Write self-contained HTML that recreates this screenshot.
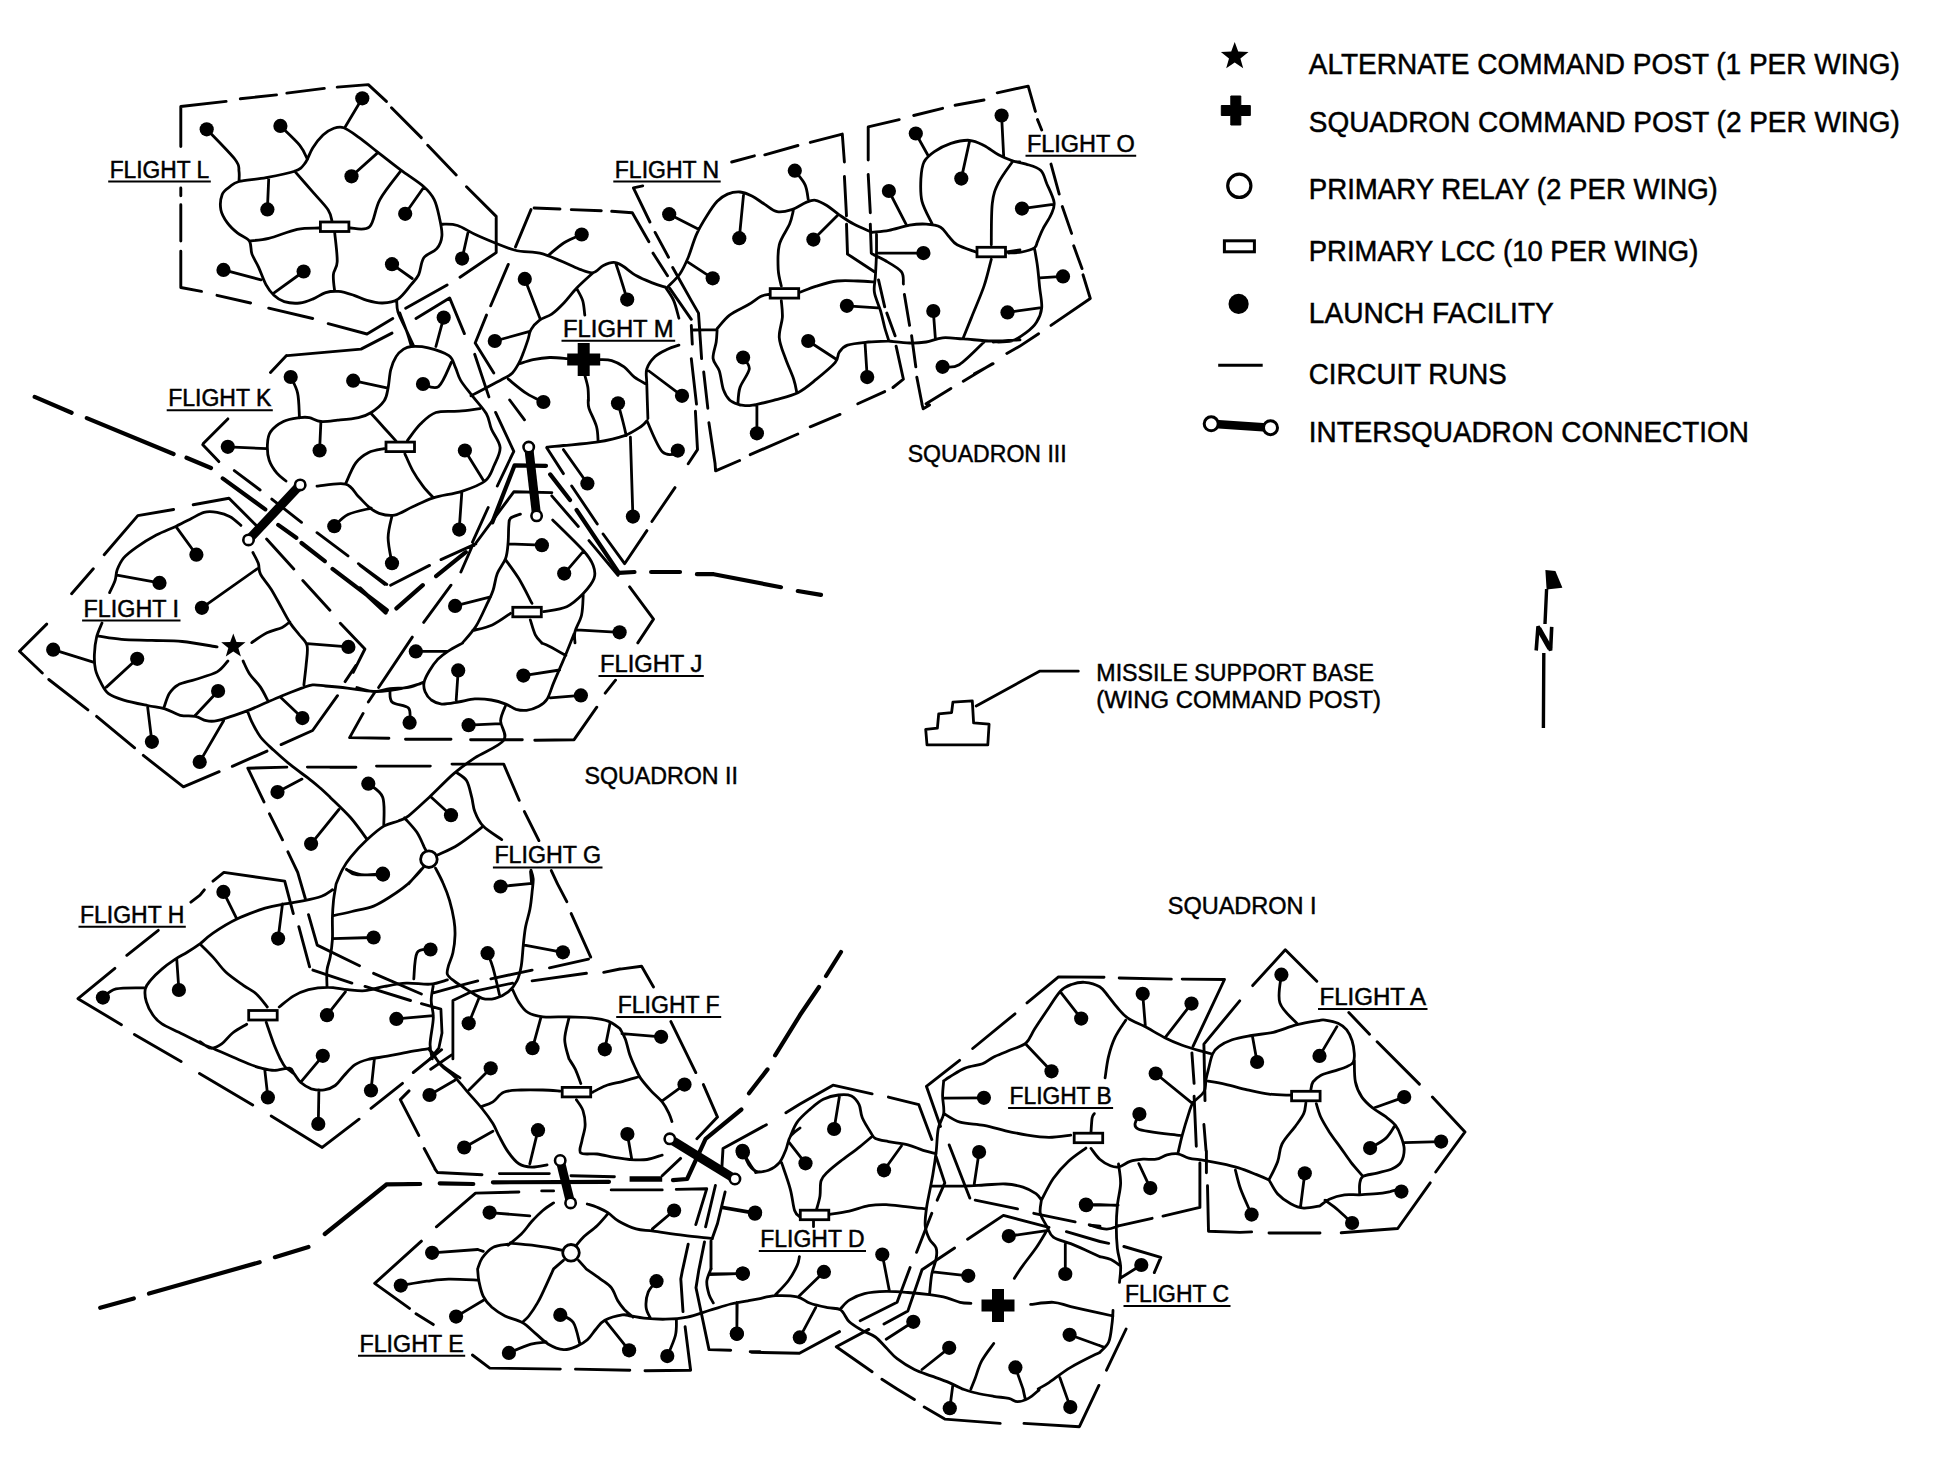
<!DOCTYPE html>
<html><head><meta charset="utf-8"><title>Wing circuit layout</title>
<style>
html,body{margin:0;padding:0;background:#fff;}
svg{display:block}
text{font-family:"Liberation Sans",sans-serif;fill:#000;}
.fl{font-size:23px;}
.lg{font-size:29px;}
.sq{font-size:23px;}
</style></head><body>
<svg width="1935" height="1470" viewBox="0 0 1935 1470">
<rect width="1935" height="1470" fill="#fff"/>
<path d="M249.3 241.0C252.6 240.5 260.8 240.3 268.7 238.4C276.7 236.4 288.8 231.1 297.2 229.3C305.6 227.6 315.5 228.3 319.1 228.0 M350.2 228.0C353.4 227.8 364.6 231.5 369.6 226.8C374.5 222.0 374.7 208.9 379.9 199.6C385.1 190.3 397.1 175.9 400.6 171.2 M334.7 232.7C335.1 237.5 337.5 254.7 337.2 261.7C337.0 268.6 333.8 269.6 333.4 274.6C332.9 279.5 334.4 288.6 334.7 291.4 M294.6 171.2C297.6 174.6 307.1 185.4 312.7 191.9C318.3 198.3 325.0 205.0 328.2 209.9C331.4 214.9 331.4 219.6 332.1 221.6 M441.9 224.2C444.5 224.4 451.4 223.5 457.5 225.5C463.5 227.4 468.7 231.7 478.1 235.8C487.6 239.9 503.6 247.0 514.3 250.0C525.1 253.0 531.8 250.7 542.8 253.9C553.7 257.1 573.8 266.8 580.0 269.4 M396.7 300.4C396.9 302.4 396.5 307.3 398.0 312.1C399.5 316.8 403.2 323.3 405.7 328.9C408.3 334.5 412.2 342.9 413.5 345.7 M239.0 181.5C245.0 180.0 256.9 179.4 266.1 177.6C275.4 175.9 288.1 173.5 294.6 171.2C301.0 168.8 301.9 167.3 304.9 163.4C307.9 159.5 309.7 152.6 312.7 147.9C315.7 143.2 319.6 138.2 323.0 135.0C326.5 131.7 329.9 129.7 333.4 128.5C336.8 127.3 339.4 126.2 343.7 127.7C348.0 129.2 353.6 133.6 359.2 137.6C364.8 141.6 370.4 146.4 377.3 151.8C384.2 157.2 392.8 164.1 400.6 169.9C408.3 175.7 418.2 181.7 423.8 186.7C429.4 191.6 431.6 194.4 434.2 199.6C436.8 204.8 438.1 211.7 439.4 217.7C440.7 223.7 442.4 230.6 441.9 235.8C441.5 241.0 439.8 245.1 436.8 248.7C433.8 252.4 426.9 253.5 423.8 257.8C420.8 262.1 420.8 270.1 418.7 274.6C416.5 279.1 414.4 280.8 410.9 284.9C407.5 289.0 402.7 296.1 398.0 299.1C393.3 302.2 387.7 302.8 382.5 303.0C377.3 303.2 371.7 301.7 367.0 300.4C362.2 299.1 358.8 296.8 354.0 295.3C349.3 293.8 343.3 291.8 338.5 291.4C333.8 291.0 329.9 291.4 325.6 292.7C321.3 294.0 317.0 297.4 312.7 299.1C308.4 300.9 304.5 302.6 299.8 303.0C295.0 303.5 288.5 303.0 284.2 301.7C279.9 300.4 276.9 298.1 273.9 295.3C270.9 292.5 268.7 289.7 266.1 284.9C263.6 280.2 260.8 272.0 258.4 266.8C256.0 261.7 253.4 258.2 251.9 253.9C250.4 249.6 251.7 244.4 249.3 241.0C247.0 237.5 241.4 236.2 237.7 233.2C234.0 230.2 230.2 226.8 227.4 222.9C224.6 219.0 221.8 214.7 220.9 209.9C220.0 205.2 220.7 198.3 222.2 194.4C223.7 190.6 227.1 188.8 229.9 186.7C232.7 184.5 233.0 183.0 239.0 181.5Z M206.7 129.3C211.4 134.3 229.7 152.6 235.1 159.5C240.5 166.5 238.4 167.5 239.0 171.2C239.6 174.8 239.0 179.8 239.0 181.5 M280.4 125.9C283.6 129.2 295.2 139.7 299.8 145.3C304.3 150.9 306.2 157.2 307.5 159.5 M362.3 98.3L345.0 127.2 M351.5 176.3L377.3 153.1 M267.4 209.4L268.7 178.9 M405.2 213.8L423.8 187.2 M223.5 269.9L261.0 279.8 M303.6 271.5L274.4 292.7 M392.0 264.2L412.2 278.5 M462.1 258.6L467.8 233.2 M286.0 481.0C284.5 479.7 279.8 476.7 276.9 473.2C274.1 469.8 270.8 465.0 269.2 460.3C267.6 455.5 267.2 449.5 267.4 444.8C267.6 440.0 267.8 435.7 270.5 431.9C273.2 428.0 278.5 423.9 283.4 421.5C288.4 419.1 295.9 418.3 300.2 417.6C304.5 417.0 305.8 417.0 309.3 417.6C312.7 418.3 316.2 421.1 320.9 421.5C325.6 421.9 331.5 420.9 337.7 420.2C344.0 419.6 352.8 418.9 358.4 417.6C364.0 416.3 367.0 415.3 371.3 412.5C375.6 409.7 381.4 404.9 384.2 400.8C387.0 396.7 387.0 393.1 388.1 387.9C389.2 382.7 389.4 375.0 390.7 369.8C392.0 364.6 393.7 360.3 395.9 356.9C398.0 353.4 401.0 350.8 403.6 349.1C406.2 347.4 407.3 346.8 411.4 346.5C415.5 346.3 421.9 346.3 428.2 347.8C434.4 349.3 444.3 352.4 448.9 355.6C453.4 358.8 453.4 363.1 455.3 367.2C457.3 371.3 457.7 375.4 460.5 380.1C463.3 384.9 467.8 390.1 472.1 395.7C476.4 401.3 483.1 408.2 486.4 413.8C489.6 419.4 489.2 423.7 491.5 429.3C493.8 434.9 499.6 441.3 500.1 447.4C500.5 453.4 496.6 459.9 494.1 465.5C491.6 471.1 490.5 476.7 485.1 481.0C479.7 485.3 470.4 488.5 461.8 491.3C453.2 494.1 441.5 495.2 433.4 497.8C425.2 500.4 419.1 503.9 412.7 506.8C406.2 509.7 400.2 514.0 394.6 515.1C389.0 516.2 383.4 514.7 379.1 513.3C374.8 511.9 372.2 509.6 368.7 506.8C365.3 504.0 362.3 500.3 358.4 496.5C354.5 492.7 352.4 485.8 345.5 484.1C338.6 482.4 321.8 485.8 317.0 486.1 M371.3 413.8C373.5 416.1 380.1 423.4 384.2 428.0C388.3 432.5 393.9 438.7 395.9 440.9 M407.5 440.4C409.7 437.7 415.7 428.7 420.4 424.1C425.2 419.4 429.5 414.6 435.9 412.5C442.4 410.3 451.9 411.8 459.2 411.2C466.5 410.5 476.4 409.0 479.9 408.6 M384.2 448.7C381.7 449.3 373.5 450.2 368.7 452.5C364.0 454.9 359.7 457.6 355.8 462.9C351.9 468.1 347.2 480.5 345.5 484.1 M404.9 453.8C406.2 456.6 409.7 465.2 412.7 470.6C415.7 476.0 419.6 481.6 423.0 486.1C426.5 490.7 431.6 495.8 433.4 497.8 M399.8 312.9C401.0 316.4 405.6 328.0 407.5 333.6C409.4 339.2 410.7 344.4 411.4 346.5 M290.7 377.0C291.8 379.7 296.2 386.5 297.6 393.1C299.1 399.6 299.1 412.5 299.4 416.3 M353.2 380.7L386.8 387.9 M423.0 384.0C425.6 384.5 433.8 390.3 438.5 386.6C443.3 382.9 449.3 366.1 451.5 362.0 M227.8 446.8L266.6 448.7 M319.6 450.5L320.9 421.5 M464.9 450.5L483.8 481.0 M334.3 526.2C336.6 524.3 341.9 517.6 348.0 514.6C354.2 511.6 367.4 509.2 371.3 508.1 M459.2 529.6L461.8 492.6 M392.0 563.2C391.3 559.0 388.1 545.7 388.1 537.8C388.1 530.0 391.3 519.5 392.0 515.9 M443.7 317.6L435.9 346.5 M520.4 514.1C518.8 514.8 512.4 516.3 510.5 518.2C508.6 520.2 509.2 521.4 508.8 525.7C508.4 530.0 508.6 538.4 508.0 543.9C507.5 549.4 507.3 553.8 505.5 558.8C503.7 563.7 499.3 568.4 497.3 573.6C495.2 578.9 494.8 585.2 493.1 590.2C491.5 595.1 490.2 597.3 487.3 603.4C484.4 609.5 479.9 620.0 475.8 626.6C471.6 633.1 464.7 640.2 462.5 642.9 M505.5 559.6C507.7 562.8 514.3 571.3 518.8 578.6C523.2 585.9 529.8 599.3 532.0 603.4 M543.6 611.7C547.4 610.8 560.1 609.7 566.7 606.7C573.3 603.7 578.7 598.2 583.3 593.5C587.8 588.8 592.3 583.3 594.0 578.6C595.7 573.9 595.0 570.1 593.2 565.4C591.4 560.7 590.0 558.1 583.3 550.5C576.5 542.9 557.8 525.0 552.7 519.9 M583.3 593.5C583.0 597.1 583.0 608.6 581.6 615.0C580.2 621.3 576.1 626.9 575.0 631.5C573.9 636.2 575.0 641.0 575.0 642.9 M510.5 613.3C507.5 615.3 498.6 622.0 492.3 624.9C486.0 627.8 475.8 629.7 472.5 630.7 M530.3 619.9C531.2 622.4 533.4 631.0 535.3 634.8C537.2 638.7 540.8 641.6 541.9 642.9 M546.9 447.1C549.6 446.9 555.1 446.3 563.4 445.5C571.7 444.7 586.3 443.8 596.5 442.2C606.7 440.5 617.2 438.2 624.6 435.6C632.0 432.9 637.4 428.9 641.1 426.5C644.9 424.0 646.0 421.6 646.9 420.7 M588.2 400.0C588.4 401.4 587.7 403.9 589.0 408.3C590.4 412.7 595.0 420.9 596.5 426.5C598.0 432.0 597.9 438.9 598.1 441.3 M646.9 420.7C649.5 425.9 657.1 446.7 662.6 452.1C668.1 457.5 677.1 452.8 680.0 452.9 M541.9 545.2L508.0 543.9 M564.2 573.6L583.3 551.3 M455.1 605.9L490.6 596.8 M619.6 632.3L576.6 629.9 M618.0 403.3C618.8 406.3 621.6 416.1 622.9 421.5C624.3 426.9 625.7 433.2 626.2 435.6 M632.9 516.6L630.4 437.2 M587.4 483.5L563.4 449.6 M580.0 269.4C582.2 270.0 589.2 273.4 593.1 272.7C596.9 272.1 599.9 267.2 603.4 265.5C606.8 263.8 610.6 262.4 613.7 262.4C616.8 262.4 618.2 263.2 622.0 265.5C625.8 267.7 631.3 272.9 636.5 275.8C641.7 278.8 648.2 281.2 653.0 283.1C657.9 285.0 663.4 286.5 665.4 287.2 M593.1 272.7C590.3 275.3 581.3 283.2 576.5 288.2C571.7 293.2 568.2 298.4 564.1 302.7C560.0 307.0 555.8 311.2 551.7 314.1C547.5 317.0 542.7 317.7 539.3 320.3C535.8 322.9 532.9 326.3 531.0 329.6C529.1 332.9 529.3 335.8 527.9 339.9C526.5 344.1 524.3 350.5 522.7 354.4C521.2 358.4 520.3 360.6 518.6 363.7C516.9 366.8 514.8 370.6 512.4 373.0C510.0 375.4 511.0 374.4 504.1 378.2C497.2 382.0 476.5 392.9 471.0 395.8 M665.4 287.2C666.8 289.4 671.5 295.5 673.7 300.6C676.0 305.8 678.0 315.3 678.9 318.2 M519.6 363.7C521.9 363.0 528.1 360.6 533.1 359.6C538.1 358.6 543.9 357.7 549.6 357.5C555.3 357.3 564.3 358.4 567.2 358.6 M600.3 359.6C602.2 359.8 607.7 359.4 611.7 360.6C615.6 361.8 620.3 364.1 624.1 366.8C627.9 369.6 630.6 374.2 634.4 377.2C638.2 380.1 644.8 383.2 646.8 384.4 M678.9 345.1C677.0 345.8 671.5 347.3 667.5 349.2C663.5 351.1 658.5 353.2 655.1 356.5C651.7 359.8 648.2 364.2 646.8 368.9C645.4 373.5 646.7 376.1 646.8 384.4C647.0 392.7 647.7 412.8 647.9 418.5 M584.8 375.1C585.3 377.2 587.3 383.2 587.9 387.5C588.5 391.8 588.4 398.7 588.5 401.0 M576.5 288.2C577.5 290.3 581.3 296.2 582.7 300.6C584.1 305.1 584.4 312.7 584.8 315.1 M693.4 330.0L717.1 329.6 M682.0 395.8L648.9 371.0 M543.4 402.0C540.7 400.6 532.7 397.5 526.9 393.7C521.0 389.9 511.4 381.6 508.3 379.2 M494.8 341.0L528.9 331.7 M524.8 278.9L540.3 319.3 M581.7 234.5C578.7 235.8 569.6 239.3 564.1 242.7C558.6 246.2 551.2 253.1 548.6 255.1 M627.2 299.6C626.0 295.6 621.8 281.9 619.9 275.8C618.0 269.8 616.5 265.5 615.8 263.4 M667.6 287.2C669.6 284.9 676.5 278.7 680.0 273.7C683.4 268.7 685.5 263.7 688.3 257.2C691.0 250.6 693.4 241.3 696.5 234.4C699.6 227.5 703.4 221.3 706.9 215.8C710.3 210.3 713.8 205.0 717.2 201.3C720.7 197.7 723.8 195.7 727.5 194.1C731.3 192.6 735.8 191.7 740.0 192.0C744.1 192.4 748.2 194.1 752.4 196.2C756.5 198.2 760.6 201.9 764.8 204.4C768.9 207.0 772.7 210.8 777.2 211.7C781.7 212.5 786.8 211.2 791.7 209.6C796.5 208.1 802.2 203.9 806.1 202.4C810.1 200.8 812.0 199.8 815.4 200.3C818.9 200.8 822.9 203.1 826.8 205.5C830.8 207.9 834.8 211.7 839.2 214.8C843.7 217.9 848.2 221.2 853.7 224.1C859.2 227.0 869.2 231.0 872.3 232.4 M876.5 234.4C876.5 237.5 876.6 246.2 876.5 253.1C876.3 259.9 875.8 269.3 875.4 275.8C875.1 282.4 873.5 286.5 874.4 292.3C875.3 298.2 878.9 305.1 880.6 311.0C882.3 316.8 883.4 322.5 884.7 327.5C886.1 332.5 888.2 338.7 888.9 341.0 M888.9 341.0C885.4 341.1 875.1 341.3 868.2 342.0C861.3 342.7 852.3 343.4 847.5 345.1C842.7 346.8 841.3 349.4 839.2 352.3C837.2 355.3 838.9 358.2 835.1 362.7C831.3 367.1 822.7 374.2 816.5 379.2C810.3 384.2 804.8 389.2 797.9 392.7C791.0 396.1 782.4 397.8 775.1 399.9C767.9 402.0 757.9 404.2 754.4 405.1 M717.2 328.5C717.0 330.8 716.9 337.0 716.2 342.0C715.5 347.0 712.6 353.7 713.1 358.5C713.6 363.4 717.6 365.8 719.3 370.9C721.0 376.1 721.7 384.7 723.4 389.6C725.1 394.4 726.9 397.3 729.6 399.9C732.4 402.5 738.2 404.2 740.0 405.1 M717.2 328.5C719.3 326.3 724.4 319.1 729.6 315.1C734.8 311.1 743.1 307.9 748.2 304.8C753.4 301.7 757.2 298.2 760.6 296.5C764.1 294.8 767.5 294.8 768.9 294.4 M799.9 292.3C802.7 291.3 810.3 288.0 816.5 286.1C822.7 284.2 830.3 281.8 837.2 281.0C844.1 280.1 851.6 280.8 857.8 281.0C864.1 281.1 871.6 281.8 874.4 282.0 M781.3 286.1C780.8 283.4 778.6 276.5 778.2 269.6C777.9 262.7 777.4 252.4 779.3 244.8C781.2 237.2 787.3 229.8 789.6 224.1C791.9 218.4 792.7 212.9 793.3 210.7 M781.3 300.6C781.5 303.4 782.7 311.0 782.4 317.2C782.0 323.4 778.7 331.0 779.3 337.8C779.8 344.7 783.0 351.6 785.5 358.5C787.9 365.4 791.8 373.5 793.7 379.2C795.6 384.9 796.3 390.4 796.8 392.7 M872.3 232.4C875.1 232.0 882.7 231.5 888.9 230.3C895.1 229.1 903.4 226.2 909.6 225.1C915.8 224.1 920.9 223.8 926.1 224.1C931.3 224.4 936.8 225.1 940.6 227.2C944.4 229.3 946.1 233.6 948.9 236.5C951.6 239.4 952.6 242.2 957.1 244.8C961.6 247.4 972.6 250.8 975.7 252.0 M932.3 224.1C930.6 220.3 923.9 208.9 922.0 201.3C920.1 193.8 920.6 185.1 920.9 178.6C921.3 172.0 921.8 166.5 924.0 162.0C926.3 157.6 929.9 154.8 934.4 151.7C938.9 148.6 945.1 145.3 950.9 143.4C956.8 141.5 964.0 140.0 969.5 140.3C975.0 140.7 979.2 143.1 984.0 145.5C988.8 147.9 993.7 152.2 998.5 154.8C1003.3 157.4 1009.4 159.8 1013.0 161.0C1016.6 162.2 1018.8 161.9 1020.0 162.0 M1013.0 161.0C1010.6 164.6 1001.9 175.7 998.5 182.7C995.0 189.8 993.5 193.1 992.3 203.4C991.1 213.8 991.4 237.9 991.3 244.8 M1006.8 252.0L1020.0 249.9 M991.3 259.3C990.0 263.7 987.3 276.5 984.0 286.1C980.7 295.8 975.0 308.5 971.6 317.2C968.2 325.8 964.7 334.4 963.3 337.8 M888.9 341.0C892.3 341.3 903.4 342.8 909.6 343.0C915.8 343.2 920.6 342.8 926.1 342.0C931.6 341.1 936.4 338.4 942.6 337.8C948.9 337.3 955.1 338.4 963.3 338.9C971.6 339.4 982.8 340.8 992.3 341.0C1001.7 341.1 1015.4 340.1 1020.0 339.9 M872.3 254.1C874.4 255.1 879.9 257.4 884.7 260.3C889.6 263.2 898.2 267.7 901.3 271.7C904.4 275.6 903.0 282.0 903.4 284.1 M669.2 214.2L698.6 229.3 M739.3 238.2L743.5 195.1 M794.8 170.7C796.5 173.1 802.9 180.0 805.1 184.8C807.3 189.6 807.7 196.9 808.2 199.3 M813.4 239.6L837.2 215.8 M712.7 278.3L688.3 262.4 M846.9 305.8L877.5 307.9 M808.2 341.0L835.1 358.5 M867.2 377.1L865.1 344.1 M743.1 357.5C744.1 359.4 749.8 363.9 749.3 368.9C748.7 373.9 741.9 381.7 740.0 387.5C738.1 393.3 738.2 401.1 737.9 403.8 M915.8 133.5L928.2 155.8 M1001.6 115.5L1003.7 156.9 M961.3 178.6L969.5 141.4 M888.9 191.0L906.5 225.1 M923.4 253.1L878.5 253.1 M933.3 311.0L935.4 338.9 M942.6 366.8C945.4 366.5 952.3 368.9 959.2 364.7C966.1 360.6 979.9 345.8 984.0 342.0 M1011.7 161.0C1014.1 161.5 1021.3 162.6 1026.1 164.1C1031.0 165.7 1037.2 167.0 1040.6 170.3C1044.1 173.6 1044.6 178.4 1046.8 183.8C1049.1 189.1 1053.4 197.2 1054.1 202.4C1054.8 207.5 1052.9 210.3 1051.0 214.8C1049.1 219.3 1044.9 224.8 1042.7 229.3C1040.4 233.7 1038.9 238.6 1037.5 241.7C1036.1 244.8 1037.0 246.1 1034.4 247.9C1031.8 249.6 1026.3 251.1 1022.0 252.0C1017.7 252.9 1010.8 252.9 1008.6 253.0 M1034.4 247.9C1034.9 251.0 1036.7 259.9 1037.5 266.5C1038.4 273.0 1038.9 280.3 1039.6 287.2C1040.3 294.1 1042.2 302.0 1041.7 307.8C1041.1 313.7 1039.1 318.2 1036.5 322.3C1033.9 326.5 1030.3 329.6 1026.1 332.7C1022.0 335.8 1017.2 339.4 1011.7 340.9C1006.1 342.5 996.2 341.8 993.1 342.0 M1022.0 208.6L1053.0 204.4 M1063.0 276.4L1039.6 277.9 M1007.5 312.4L1039.6 307.8 M739.9 404.9C741.1 405.0 745.0 405.7 747.4 405.7C749.8 405.7 753.2 405.0 754.3 404.9 M925.7 729.4L937.4 728.1L938.7 713.8L951.6 712.6L952.9 702.2L972.3 700.9L973.6 722.9L989.1 724.2L987.8 744.9L927.0 744.9L925.7 729.4 M976.2 706.1L1039.5 671.2L1078.3 671.2 M756.9 433.3L756.9 404.9 M240.9 525.4C239.1 523.9 234.1 518.8 230.1 516.7C226.1 514.5 221.4 513.1 217.1 512.3C212.7 511.6 208.4 511.2 204.0 512.3C199.7 513.4 195.7 516.5 191.0 518.8C186.3 521.2 181.6 523.7 175.8 526.4C170.0 529.1 162.8 531.7 156.3 535.1C149.8 538.6 142.2 543.3 136.7 547.1C131.3 550.9 127.0 554.1 123.7 557.9C120.5 561.7 118.7 566.0 117.2 569.8C115.8 573.6 116.3 576.9 115.0 580.7C113.8 584.5 110.5 590.6 109.6 592.6 M102.0 623.0C101.1 625.4 97.9 631.9 96.6 637.1C95.3 642.4 94.6 649.1 94.4 654.5C94.2 659.9 94.4 665.0 95.5 669.7C96.6 674.4 98.8 678.7 100.9 682.7C103.1 686.7 104.7 690.7 108.5 693.6C112.3 696.5 117.2 698.1 123.7 700.1C130.2 702.1 140.7 704.1 147.6 705.5C154.5 707.0 159.5 707.1 165.0 708.8C170.4 710.4 175.1 714.0 180.2 715.3C185.2 716.5 191.0 715.5 195.4 716.4C199.7 717.3 202.6 720.0 206.2 720.7C209.8 721.4 212.4 721.6 217.1 720.7C221.8 719.8 229.0 717.1 234.4 715.3C239.9 713.5 244.2 712.0 249.6 709.9C255.0 707.7 261.6 704.6 267.0 702.3C272.4 699.9 276.4 698.1 282.2 695.7C288.0 693.4 296.7 690.0 301.7 688.1C306.8 686.3 308.6 685.3 312.6 684.9C316.5 684.5 319.8 685.4 325.6 686.0C331.4 686.5 339.3 687.2 347.3 688.1C355.3 689.1 366.1 691.0 373.3 691.4C380.6 691.8 384.9 691.0 390.7 690.3C396.5 689.6 403.2 688.1 408.1 687.1C413.0 686.0 418.0 684.3 420.0 683.8 M252.9 552.5C253.8 554.3 257.0 559.7 258.3 563.3C259.6 567.0 258.3 569.8 260.5 574.2C262.6 578.5 267.7 583.6 271.3 589.4C274.9 595.2 278.9 603.1 282.2 608.9C285.4 614.7 288.0 619.8 290.9 624.1C293.8 628.5 296.8 631.3 299.5 635.0C302.3 638.6 306.1 640.8 307.1 645.8C308.2 650.9 306.6 658.8 306.1 665.4C305.5 671.9 304.2 681.6 303.9 684.9 M98.8 636.1C102.6 636.6 112.7 638.6 121.6 639.3C130.4 640.0 141.8 640.0 151.9 640.4C162.1 640.8 171.5 640.4 182.3 641.5C193.2 642.6 211.3 646.0 217.1 646.9 M251.8 642.6C254.3 640.9 261.9 635.3 267.0 632.8C272.0 630.3 278.4 629.2 282.2 627.4C286.0 625.6 288.5 622.8 289.8 621.9 M227.9 661.0C226.1 662.8 222.5 668.8 217.1 671.9C211.6 674.9 201.9 677.3 195.4 679.5C188.8 681.6 182.3 682.5 178.0 684.9C173.6 687.2 171.7 689.8 169.3 693.6C167.0 697.4 164.8 705.3 163.9 707.7 M243.1 661.0C244.2 663.2 246.7 669.7 249.6 674.0C252.5 678.4 257.4 682.5 260.5 687.1C263.5 691.6 266.8 698.8 268.1 701.2 M247.4 710.9C248.2 712.7 249.6 717.4 251.8 721.8C254.0 726.1 256.9 732.3 260.5 737.0C264.1 741.7 268.4 745.3 273.5 750.0C278.6 754.7 285.1 760.5 290.9 765.2C296.7 769.9 303.2 774.3 308.2 778.2C313.3 782.2 319.1 787.1 321.3 788.9 M196.4 554.7L175.8 526.4 M159.5 582.9L118.3 575.3 M201.9 607.8L257.2 568.8 M53.2 649.7L93.3 662.1 M137.2 658.8L106.4 687.1 M348.4 646.9L307.1 643.6 M218.1 691.0L195.4 715.3 M302.4 718.1L280.0 696.8 M151.9 741.8L147.6 706.6 M199.7 761.9L223.6 720.7 M420.0 683.8L423.1 682.4 M356.9 687.5C359.8 688.2 369.0 691.5 374.5 691.7C380.0 691.9 384.3 689.3 390.0 688.6C395.7 687.9 403.1 688.6 408.6 687.5C414.1 686.5 420.7 683.2 423.1 682.4 M462.6 643.1C460.1 644.5 452.1 648.6 447.9 651.4C443.7 654.1 440.7 656.4 437.5 659.6C434.4 662.9 431.5 667.2 429.3 671.0C427.0 674.8 424.8 678.9 424.1 682.4C423.4 685.8 423.9 688.8 425.1 691.7C426.3 694.6 428.6 697.9 431.3 700.0C434.1 702.0 437.2 703.8 441.7 704.1C446.2 704.4 452.7 702.9 458.2 702.0C463.7 701.2 469.3 699.3 474.8 698.9C480.3 698.6 486.2 699.1 491.3 700.0C496.5 700.8 501.7 702.5 505.8 704.1C509.9 705.6 512.7 708.2 516.1 709.3C519.6 710.3 522.7 710.8 526.5 710.3C530.3 709.8 535.4 708.1 538.9 706.2C542.3 704.3 544.8 702.7 547.2 698.9C549.6 695.1 551.3 688.4 553.4 683.4C555.4 678.4 557.5 673.8 559.6 668.9C561.6 664.1 563.4 660.3 565.8 654.5C568.2 648.6 572.7 637.2 574.1 633.8 M541.8 643.1C543.0 643.6 545.2 644.1 549.2 646.2C553.2 648.3 563.0 653.9 565.8 655.5 M505.8 705.1C504.9 707.7 501.0 714.8 500.6 720.6C500.3 726.5 508.0 734.1 503.7 740.3C499.4 746.5 483.1 752.4 474.8 757.9C466.5 763.4 461.7 766.8 454.1 773.4C446.5 779.9 436.9 790.1 429.3 797.2C421.7 804.2 413.8 811.8 408.6 815.8C403.4 819.7 402.4 819.2 398.3 821.0C394.1 822.7 388.9 823.0 383.8 826.1C378.6 829.2 372.7 834.4 367.2 839.6C361.7 844.7 354.8 852.1 350.7 857.1C346.5 862.1 344.8 865.1 342.4 869.6C340.0 874.0 337.2 881.4 336.2 883.8 M404.5 817.8C406.5 820.3 413.6 827.5 416.9 832.3C420.1 837.2 422.6 843.7 424.1 846.8C425.7 849.9 425.8 850.3 426.2 850.9 M437.5 855.1C441.0 853.4 450.8 849.4 458.2 844.7C465.6 840.1 478.1 830.1 482.0 827.2 M456.2 772.3C457.9 773.7 463.9 776.5 466.5 780.6C469.1 784.8 470.3 792.0 471.7 797.2C473.1 802.3 472.9 806.8 474.8 811.6C476.7 816.5 478.6 821.5 483.1 826.1C487.5 830.8 498.6 837.3 501.7 839.6 M330.0 797.2C333.4 800.6 344.5 810.8 350.7 817.8C356.9 824.9 364.5 835.9 367.2 839.6 M421.0 869.6L408.6 883.8 M415.8 651.4L447.9 651.4 M458.2 670.4L456.2 700.0 M523.4 675.6L559.6 670.0 M580.9 695.4L550.3 697.9 M409.6 722.7C409.5 720.3 411.5 711.7 408.6 708.2C405.7 704.8 395.1 705.1 392.0 702.0C388.9 698.9 390.3 691.7 390.0 689.6 M468.6 725.2L500.6 723.7 M451.0 815.2L431.3 797.2 M368.3 783.7C370.7 786.0 380.2 790.1 382.7 797.2C385.3 804.2 383.6 821.3 383.8 826.1 M382.7 873.7C379.1 873.9 367.1 875.4 361.0 874.7C355.0 874.0 349.0 870.4 346.5 869.6 M321.1 788.8L330.0 797.1 M336.1 883.9C335.7 886.7 334.1 894.9 333.5 900.6C332.9 906.3 332.6 911.5 332.4 918.0C332.2 924.5 332.8 933.2 332.4 939.7C332.0 946.2 331.1 952.0 330.2 957.1C329.3 962.1 327.5 965.2 327.0 970.1C326.4 975.0 327.0 983.7 327.0 986.4 M332.4 915.8C335.7 915.1 345.1 913.1 351.9 911.5C358.8 909.9 367.1 908.6 373.6 906.1C380.2 903.5 385.6 899.7 391.0 896.3C396.4 892.8 401.9 889.0 406.2 885.4C410.5 881.8 414.2 877.7 417.1 874.6C420.0 871.5 422.5 868.2 423.6 867.0 M435.5 868.1C436.8 870.6 440.8 877.8 443.1 883.3C445.5 888.7 447.8 894.5 449.6 900.6C451.4 906.8 453.1 914.4 454.0 920.2C454.9 925.9 455.2 929.9 455.0 935.4C454.9 940.8 454.0 947.7 452.9 952.7C451.8 957.8 449.4 962.1 448.5 965.7C447.6 969.4 446.5 971.9 447.4 974.4C448.4 977.0 450.7 978.4 454.0 980.9C457.2 983.5 462.3 986.7 467.0 989.6C471.7 992.5 477.5 996.9 482.2 998.3C486.9 999.7 490.9 999.4 495.2 998.3C499.5 997.2 504.6 994.7 508.2 991.8C511.8 988.9 514.7 985.3 516.9 980.9C519.1 976.6 520.2 971.9 521.3 965.7C522.3 959.6 522.7 950.5 523.4 944.0C524.1 937.5 524.5 932.5 525.6 926.7C526.7 920.9 528.8 915.1 529.9 909.3C531.0 903.5 531.6 897.0 532.1 891.9C532.6 886.9 533.4 882.5 533.2 878.9C533.0 875.3 531.4 871.7 531.0 870.2 M512.6 989.6C513.7 991.8 516.5 998.8 519.1 1002.6C521.6 1006.4 523.8 1010.1 527.8 1012.4C531.7 1014.8 536.1 1016.0 543.0 1016.8C549.8 1017.5 561.0 1016.6 569.0 1016.8C577.0 1016.9 584.2 1017.1 590.7 1017.8C597.2 1018.6 603.2 1019.3 608.1 1021.1C613.0 1022.9 618.0 1027.4 620.0 1028.7 M569.0 1017.8C568.3 1021.5 564.7 1032.7 564.7 1039.5C564.7 1046.4 568.3 1055.6 569.0 1058.9 M200.0 944.0C202.2 942.2 206.9 937.3 213.0 933.2C219.2 929.0 228.2 923.2 236.9 919.1C245.6 914.9 257.2 910.8 265.1 908.2C273.1 905.7 278.1 905.1 284.7 903.9C291.2 902.6 298.0 901.9 304.2 900.6C310.3 899.4 316.9 898.1 321.6 896.3C326.3 894.5 330.6 890.9 332.4 889.8 M200.0 944.0C202.2 946.2 208.7 952.4 213.0 957.1C217.4 961.8 221.0 967.6 226.0 972.3C231.1 977.0 238.3 981.7 243.4 985.3C248.5 988.9 252.5 990.3 256.4 994.0C260.4 997.6 265.5 1004.8 267.3 1007.0 M279.2 1007.0C281.6 1005.2 288.5 999.0 293.3 996.1C298.2 993.2 302.7 991.1 308.5 989.6C314.3 988.2 321.6 987.4 328.1 987.4C334.6 987.4 341.5 989.1 347.6 989.6C353.8 990.2 358.8 991.2 365.0 990.7C371.1 990.2 377.6 987.6 384.5 986.4C391.4 985.1 398.6 983.5 406.2 983.1C413.8 982.7 423.2 984.7 430.1 984.2C437.0 983.7 444.6 980.6 447.4 979.9 M246.7 1024.3C244.3 1025.8 236.7 1029.8 232.6 1033.0C228.4 1036.3 225.3 1041.4 221.7 1043.9C218.1 1046.4 214.5 1048.6 210.9 1048.2C207.2 1047.9 201.8 1042.8 200.0 1041.7 M266.2 1022.2C267.5 1025.8 271.4 1037.8 273.8 1043.9C276.2 1050.0 279.2 1056.4 280.3 1058.9 M433.3 985.3C433.0 987.8 431.2 995.0 431.2 1000.5C431.2 1005.9 433.5 1010.6 433.3 1017.8C433.2 1025.1 430.3 1037.0 430.1 1043.9C429.9 1050.7 431.9 1056.4 432.3 1058.9 M421.4 1003.7L440.9 1009.2L442.0 1033.0L438.8 1048.2L430.1 1058.9 M452.9 1058.9L452.9 1000.5L471.3 991.8L512.6 983.1 M433.3 992.9L460.5 985.3L477.8 980.9 M373.6 937.5L332.4 938.6 M383.0 874.6C378.5 874.6 362.4 875.5 356.3 874.6C350.2 873.7 348.1 870.1 346.5 869.2 M430.5 949.5C428.3 950.0 419.8 947.8 417.1 952.7C414.3 957.6 414.3 974.4 413.8 978.8 M487.6 953.2C488.5 955.6 491.0 960.9 493.0 967.9C495.0 974.9 498.5 990.5 499.5 995.0 M500.6 886.5L532.1 883.3 M562.9 952.3L524.5 945.1 M277.5 792.1L302.0 779.1 M311.1 843.8L338.9 809.5 M532.5 1048.2L540.8 1017.8 M604.8 1049.3L610.2 1022.2 M468.7 1023.3L478.9 998.3 M223.4 891.9L236.9 919.1 M278.1 938.6L282.5 903.9 M327.0 1015.2L345.4 991.8 M396.4 1018.9L433.3 1015.7 M200.6 943.3C198.5 944.8 191.9 949.3 187.6 952.0C183.3 954.7 178.9 956.7 174.6 959.6C170.2 962.5 165.5 965.9 161.6 969.4C157.6 972.8 153.4 977.0 150.7 980.2C148.0 983.5 146.0 985.3 145.3 988.9C144.6 992.5 145.1 997.6 146.4 1001.9C147.6 1006.3 150.3 1011.3 152.9 1015.0C155.4 1018.6 157.2 1020.8 161.6 1023.6C165.9 1026.5 172.4 1029.1 178.9 1032.3C185.4 1035.6 194.5 1040.3 200.6 1043.2C206.8 1046.1 210.8 1047.5 215.8 1049.7C220.9 1051.9 225.6 1053.9 231.0 1056.2C236.4 1058.6 243.3 1061.8 248.4 1063.8C253.4 1065.8 257.1 1067.1 261.4 1068.1C265.7 1069.2 269.7 1070.3 274.4 1070.3C279.1 1070.3 286.4 1067.6 289.6 1068.1C292.9 1068.7 292.2 1071.2 294.0 1073.6C295.8 1075.9 297.6 1079.7 300.5 1082.3C303.4 1084.8 307.3 1087.5 311.3 1088.8C315.3 1090.0 320.4 1090.4 324.3 1089.9C328.3 1089.3 331.9 1087.9 335.2 1085.5C338.5 1083.2 340.6 1079.2 343.9 1075.7C347.1 1072.3 350.8 1067.6 354.7 1064.9C358.7 1062.2 362.3 1060.9 367.8 1059.5C373.2 1058.0 380.4 1057.5 387.3 1056.2C394.2 1054.9 402.1 1053.1 409.0 1051.9C415.9 1050.6 425.3 1049.2 428.5 1048.6 M280.3 1058.8C281.1 1060.2 283.0 1064.6 285.3 1067.1C287.6 1069.5 292.5 1072.5 294.0 1073.6 M428.5 1048.6C430.7 1051.3 436.3 1060.0 441.6 1064.9C446.8 1069.8 456.9 1075.7 460.0 1077.9 M102.9 997.6C105.1 996.2 109.1 990.5 116.0 988.9C122.8 987.3 139.5 988.0 144.2 987.8 M178.9 990.0L176.7 958.5 M267.9 1097.4L264.7 1069.2 M318.3 1123.9L318.9 1089.9 M371.0 1090.5L374.3 1059.5 M322.8 1055.8L301.6 1081.2 M620.1 1028.8C620.9 1030.5 623.7 1034.8 625.3 1039.0C626.9 1043.2 628.0 1049.5 629.6 1054.2C631.2 1058.9 633.2 1063.2 635.0 1067.2C636.9 1071.2 637.8 1074.1 640.5 1078.1C643.2 1082.0 647.7 1087.1 651.3 1091.1C654.9 1095.1 659.3 1098.3 662.2 1101.9C665.1 1105.6 667.1 1109.5 668.7 1112.8C670.3 1116.1 671.4 1120.0 671.9 1121.5 M569.1 1059.0C570.1 1060.7 573.4 1065.3 575.4 1069.4C577.3 1073.5 579.9 1081.1 580.8 1083.5 M592.7 1092.2C594.9 1091.1 600.7 1087.5 605.7 1085.7C610.8 1083.9 617.7 1082.8 623.1 1081.3C628.5 1079.9 635.8 1077.7 638.3 1077.0 M560.2 1091.1C557.3 1090.9 549.3 1090.2 542.8 1090.0C536.3 1089.8 527.6 1089.6 521.1 1090.0C514.6 1090.4 508.4 1090.2 503.7 1092.2C499.0 1094.2 496.5 1099.6 492.9 1101.9C489.3 1104.3 483.8 1105.6 482.0 1106.3 M576.4 1099.8C577.5 1101.6 581.5 1106.3 583.0 1110.6C584.4 1115.0 585.3 1120.8 585.1 1125.8C584.9 1130.9 582.6 1136.5 581.9 1141.0C581.1 1145.5 578.2 1150.8 580.8 1153.0C583.3 1155.1 591.5 1153.3 597.1 1154.0C602.7 1154.8 609.0 1156.4 614.4 1157.3C619.9 1158.2 624.2 1159.1 629.6 1159.5C635.0 1159.8 641.6 1160.2 647.0 1159.5C652.4 1158.7 659.6 1155.8 662.2 1155.1 M432.1 1052.0C433.5 1054.2 437.2 1061.1 440.8 1065.0C444.4 1069.0 449.5 1071.6 453.8 1075.9C458.1 1080.2 462.1 1085.7 466.8 1091.1C471.5 1096.5 477.7 1103.0 482.0 1108.5C486.4 1113.9 490.0 1118.9 492.9 1123.6C495.8 1128.4 496.9 1132.0 499.4 1136.7C501.9 1141.4 504.8 1147.3 508.1 1151.9C511.3 1156.4 514.9 1161.3 518.9 1163.8C522.9 1166.3 527.2 1166.9 531.9 1167.1C536.6 1167.2 544.6 1165.3 547.1 1164.9 M553.6 1202.9C551.8 1204.1 546.4 1207.4 542.8 1210.5C539.2 1213.5 535.6 1217.3 531.9 1221.3C528.3 1225.3 525.1 1230.4 521.1 1234.3C517.1 1238.3 510.2 1243.4 508.1 1245.2 M587.3 1204.0C588.9 1204.5 593.6 1205.8 597.1 1207.2C600.5 1208.7 604.3 1210.3 607.9 1212.6C611.5 1215.0 614.1 1218.6 618.8 1221.3C623.5 1224.0 630.3 1227.3 636.1 1228.9C641.9 1230.6 645.5 1230.0 653.5 1231.1C661.5 1232.2 674.1 1234.2 683.9 1235.4C693.7 1236.7 707.4 1238.1 712.1 1238.7 M607.9 1213.7C606.1 1215.7 601.0 1221.9 597.1 1225.7C593.1 1229.5 587.7 1233.1 584.0 1236.5C580.4 1240.0 576.8 1244.7 575.4 1246.3 M508.1 1244.1C505.5 1244.7 497.2 1245.0 492.9 1247.4C488.5 1249.7 484.6 1254.6 482.0 1258.2C479.5 1261.8 478.4 1267.1 477.7 1268.9 M510.2 1243.0C513.9 1243.4 524.7 1244.3 531.9 1245.2C539.2 1246.1 548.4 1247.6 553.6 1248.5C558.9 1249.4 561.8 1250.3 563.4 1250.6 M563.4 1260.4L553.6 1268.9 M578.6 1260.4L586.2 1268.9 M800.0 1128.0C798.4 1129.4 792.6 1133.1 790.2 1136.7C787.9 1140.3 787.7 1145.4 785.9 1149.7C784.1 1154.0 782.3 1159.3 779.4 1162.7C776.5 1166.2 772.5 1168.7 768.5 1170.3C764.6 1171.9 757.7 1172.1 755.5 1172.5 M781.6 1162.7C783.0 1167.1 788.1 1180.8 790.2 1188.8C792.4 1196.7 793.0 1205.8 794.6 1210.5C796.2 1215.2 799.1 1215.9 800.0 1217.0 M661.1 1036.8L622.0 1033.6 M684.5 1084.6L662.2 1100.9 M490.7 1068.3L469.0 1090.0 M429.5 1095.0L454.9 1080.2 M464.2 1147.5L492.9 1131.2 M538.0 1130.2L529.8 1163.8 M627.4 1134.1L631.8 1159.5 M489.6 1212.6L529.8 1215.9 M674.1 1210.5L652.4 1228.9 M432.1 1252.8L477.7 1249.5 M755.1 1212.6L723.0 1207.2 M742.5 1150.8C743.6 1153.1 746.8 1161.5 749.0 1164.9C751.2 1168.3 754.4 1170.3 755.5 1171.4 M477.6 1268.9C477.8 1270.9 478.0 1276.6 478.9 1281.2C479.9 1285.8 481.1 1292.1 483.3 1296.4C485.4 1300.8 488.3 1304.0 491.9 1307.3C495.6 1310.5 499.9 1313.4 505.0 1316.0C510.0 1318.5 517.3 1319.6 522.3 1322.5C527.4 1325.4 531.0 1329.7 535.4 1333.3C539.7 1336.9 543.7 1341.5 548.4 1344.2C553.1 1346.9 558.9 1349.2 563.6 1349.6C568.3 1350.0 572.6 1348.0 576.6 1346.4C580.6 1344.7 584.2 1342.7 587.4 1339.8C590.7 1336.9 593.2 1332.2 596.1 1329.0C599.0 1325.7 600.5 1322.7 604.8 1320.3C609.2 1318.0 617.8 1315.6 622.2 1314.9C626.5 1314.2 627.2 1315.4 630.9 1316.0C634.5 1316.5 638.1 1317.6 643.9 1318.1C649.7 1318.7 658.4 1319.4 665.6 1319.2C672.8 1319.0 680.1 1318.5 687.3 1317.1C694.5 1315.6 701.8 1312.7 709.0 1310.5C716.2 1308.4 724.2 1305.7 730.7 1304.0C737.2 1302.4 743.2 1301.7 748.1 1300.8C753.0 1299.9 758.0 1299.0 760.0 1298.6 M553.6 1268.9C552.0 1272.4 546.7 1284.2 544.0 1289.9C541.4 1295.6 540.1 1298.6 537.5 1302.9C535.0 1307.3 531.2 1312.9 528.8 1316.0C526.5 1319.0 524.3 1320.5 523.4 1321.4 M586.1 1268.9C588.5 1270.6 596.3 1275.9 600.5 1279.1C604.7 1282.2 608.4 1284.1 611.3 1287.7C614.2 1291.4 615.7 1297.2 617.8 1300.8C620.0 1304.4 621.8 1306.7 624.3 1309.5C626.9 1312.2 631.6 1315.8 633.0 1317.1 M711.0 1268.9C710.3 1270.9 707.2 1277.0 706.8 1281.2C706.5 1285.5 707.9 1290.6 709.0 1294.3C710.1 1297.9 712.6 1301.5 713.3 1302.9 M477.6 1249.5L483.3 1251.3 M400.8 1285.6C405.1 1284.9 418.9 1282.3 426.8 1281.2C434.8 1280.2 439.8 1279.2 448.5 1279.1C457.2 1278.9 473.9 1280.0 478.9 1280.2 M456.1 1316.6L484.3 1299.7 M560.3 1314.9C562.5 1316.1 570.1 1317.6 573.3 1322.5C576.6 1327.4 578.8 1340.6 579.9 1344.2 M508.9 1352.9C512.6 1351.4 524.8 1346.0 531.0 1344.2C537.2 1342.4 543.7 1342.4 546.2 1342.0 M629.1 1350.3L605.9 1321.4 M656.5 1281.2C655.1 1283.0 650.0 1287.7 648.2 1292.1C646.5 1296.4 645.7 1302.9 646.1 1307.3C646.4 1311.6 649.7 1316.3 650.4 1318.1 M667.3 1356.1C668.7 1352.7 673.8 1341.7 675.4 1335.5C676.9 1329.4 676.3 1321.9 676.4 1319.2 M742.6 1273.6L709.0 1274.7 M736.8 1333.8L737.2 1302.9 M790.3 1136.6C791.4 1134.2 793.9 1126.7 797.2 1122.1C800.5 1117.5 805.9 1112.9 810.2 1109.1C814.6 1105.3 818.6 1101.7 823.3 1099.3C828.0 1097.0 833.8 1095.5 838.5 1095.0C843.2 1094.4 848.0 1094.4 851.5 1096.0C854.9 1097.7 857.3 1101.1 859.1 1104.7C860.9 1108.3 860.3 1113.1 862.3 1117.8C864.3 1122.5 868.8 1129.5 871.0 1132.9C873.2 1136.4 872.5 1136.9 875.4 1138.4C878.2 1139.8 883.0 1140.5 888.4 1141.6C893.8 1142.7 902.1 1143.4 907.9 1144.9C913.7 1146.3 918.4 1148.9 923.1 1150.3C927.8 1151.8 934.0 1153.0 936.1 1153.6 M871.0 1137.3C868.8 1139.1 863.1 1144.2 858.0 1148.1C852.9 1152.1 845.7 1157.2 840.6 1161.2C835.6 1165.1 830.9 1168.8 827.6 1172.0C824.3 1175.3 822.4 1176.7 821.1 1180.7C819.8 1184.7 820.7 1191.2 820.0 1195.9C819.3 1200.6 817.3 1206.7 816.7 1208.9 M829.8 1214.3C833.0 1213.8 842.8 1212.5 849.3 1211.1C855.8 1209.6 862.7 1206.7 868.8 1205.7C875.0 1204.6 880.1 1204.4 886.2 1204.6C892.4 1204.8 899.2 1206.0 905.7 1206.7C912.3 1207.5 922.0 1208.6 925.3 1208.9 M813.5 1220.9L813.5 1226.7 M760.1 1298.6C762.7 1298.1 769.3 1296.0 775.5 1295.7C781.7 1295.5 791.4 1295.6 797.2 1296.8C803.0 1298.1 805.2 1301.5 810.2 1303.3C815.3 1305.1 822.5 1306.6 827.6 1307.7C832.7 1308.8 837.0 1307.5 840.6 1309.9C844.2 1312.2 845.7 1318.4 849.3 1321.8C852.9 1325.2 858.0 1327.9 862.3 1330.5C866.7 1333.0 871.4 1334.1 875.4 1337.0C879.3 1339.9 882.6 1344.2 886.2 1347.8C889.8 1351.5 892.4 1355.1 897.1 1358.7C901.8 1362.3 908.6 1366.7 914.4 1369.5C920.2 1372.4 926.0 1373.9 931.8 1376.1C937.6 1378.2 944.1 1380.4 949.2 1382.6C954.2 1384.7 960.0 1387.8 962.2 1388.9 M840.6 1308.8C842.1 1307.3 845.3 1302.6 849.3 1300.1C853.3 1297.6 858.4 1295.0 864.5 1293.6C870.7 1292.1 879.0 1291.6 886.2 1291.4C893.4 1291.2 900.7 1291.9 907.9 1292.5C915.1 1293.0 923.1 1293.8 929.6 1294.7C936.1 1295.6 941.9 1296.6 947.0 1297.9C952.0 1299.2 956.0 1301.4 960.0 1302.3C964.0 1303.2 969.1 1303.2 970.9 1303.3 M775.5 1294.7C777.7 1292.3 784.9 1285.4 788.5 1280.5C792.1 1275.7 795.4 1269.3 797.2 1265.4C799.0 1261.4 799.0 1258.1 799.4 1256.7 M943.7 1080.9C943.5 1083.4 942.6 1090.6 942.6 1096.0C942.6 1101.5 944.5 1108.0 943.7 1113.4C943.0 1118.8 939.6 1122.1 938.3 1128.6C937.0 1135.1 937.0 1144.9 936.1 1152.5C935.2 1160.1 934.0 1167.7 932.9 1174.2C931.8 1180.7 930.7 1185.8 929.6 1191.6C928.5 1197.3 927.1 1203.1 926.4 1208.9C925.6 1214.7 924.7 1221.2 925.3 1226.3C925.8 1231.3 927.8 1235.7 929.6 1239.3C931.4 1242.9 935.0 1244.7 936.1 1248.0C937.2 1251.2 936.9 1254.5 936.1 1258.8C935.4 1263.2 932.9 1268.2 931.8 1274.0C930.7 1279.8 930.0 1290.3 929.6 1293.6 M931.8 1186.1C936.9 1186.1 953.5 1186.3 962.2 1186.1C970.9 1185.9 976.7 1185.4 983.9 1185.0C991.1 1184.7 999.1 1183.6 1005.6 1184.0C1012.1 1184.3 1017.9 1185.6 1023.0 1187.2C1028.0 1188.8 1032.9 1191.6 1036.0 1193.7C1039.1 1195.9 1040.5 1199.2 1041.4 1200.2 M943.7 1113.4C946.4 1114.9 953.3 1120.1 960.0 1122.1C966.7 1124.1 976.3 1123.9 983.9 1125.4C991.5 1126.8 998.4 1129.1 1005.6 1130.8C1012.8 1132.4 1020.1 1134.0 1027.3 1135.1C1034.5 1136.2 1041.8 1137.3 1049.0 1137.3C1056.2 1137.3 1067.1 1135.5 1070.7 1135.1 M1041.4 1200.2C1043.4 1196.6 1048.8 1185.0 1053.3 1178.5C1057.9 1172.0 1063.1 1166.2 1068.5 1161.2C1074.0 1156.1 1083.0 1150.3 1085.9 1148.1 M1041.4 1200.2C1041.2 1202.4 1039.4 1208.9 1040.3 1213.3C1041.2 1217.6 1044.7 1222.3 1046.8 1226.3C1049.0 1230.3 1049.4 1234.2 1053.3 1237.1C1057.3 1240.0 1065.3 1241.5 1070.7 1243.6C1076.1 1245.8 1081.0 1248.0 1085.9 1250.2C1090.8 1252.3 1097.7 1255.6 1100.0 1256.7 M1046.8 1230.6C1045.0 1233.5 1040.0 1242.2 1036.0 1248.0C1032.0 1253.8 1026.6 1260.3 1023.0 1265.4C1019.3 1270.4 1015.7 1276.2 1014.3 1278.4 M1030.6 1304.4C1034.4 1304.1 1046.7 1301.9 1053.3 1302.3C1060.0 1302.6 1062.9 1304.8 1070.7 1306.6C1078.5 1308.4 1095.1 1312.0 1100.0 1313.1 M993.7 1343.5C991.7 1346.4 984.8 1355.1 981.7 1360.9C978.6 1366.7 977.0 1373.6 975.2 1378.2C973.4 1382.9 971.6 1387.1 970.9 1388.9 M1100.0 1352.2C1095.1 1354.7 1079.2 1362.3 1070.7 1367.4C1062.2 1372.4 1054.4 1379.0 1049.0 1382.6C1043.6 1386.1 1040.0 1387.8 1038.2 1388.9 M834.1 1129.0L839.5 1096.0 M805.5 1163.3L788.5 1141.6 M884.0 1170.3L901.4 1146.0 M742.9 1152.5C744.8 1155.4 750.9 1166.6 753.8 1169.8C756.7 1173.1 759.2 1171.7 760.3 1172.0 M754.9 1213.7L722.3 1207.8 M742.9 1273.6L709.3 1274.0 M823.9 1271.9L799.4 1295.7 M882.3 1254.5L889.5 1291.4 M736.9 1333.7L736.9 1302.3 M799.8 1337.4L815.7 1307.7 M983.9 1097.8L944.8 1098.2 M979.1 1152.0L974.1 1185.0 M968.3 1275.8L932.9 1271.9 M913.3 1321.8L886.2 1339.2 M949.2 1347.8L922.0 1369.5 M1008.8 1236.1L1046.8 1230.6 M1065.3 1274.0L1065.3 1243.6 M1085.9 1204.6L1100.0 1204.6 M1069.6 1334.8L1100.0 1345.7 M1015.4 1367.4L1023.0 1388.9 M962.2 1388.9C964.5 1389.6 971.0 1391.8 976.3 1393.0C981.5 1394.3 988.2 1395.4 993.6 1396.3C999.1 1397.2 1004.9 1397.5 1008.8 1398.4C1012.8 1399.4 1014.3 1401.7 1017.5 1401.7C1020.8 1401.7 1024.8 1400.4 1028.4 1398.4C1032.0 1396.5 1037.4 1391.2 1039.2 1389.8 M1100.0 1352.2C1101.5 1350.5 1106.7 1346.6 1108.7 1342.0C1110.7 1337.4 1111.2 1329.9 1111.9 1324.6C1112.7 1319.4 1112.9 1312.9 1113.0 1310.5 M1100.0 1313.1L1113.0 1316.0 M1100.0 1345.7L1104.3 1347.4 M1023.0 1388.9L1025.1 1398.4 M1100.0 1256.7C1101.8 1257.2 1107.4 1258.0 1110.9 1259.5C1114.3 1261.1 1119.0 1265.0 1120.6 1266.0 M1118.5 1164.0C1118.8 1167.3 1120.8 1176.7 1120.6 1183.6C1120.4 1190.4 1118.1 1198.0 1117.4 1205.3C1116.7 1212.5 1116.3 1219.7 1116.3 1227.0C1116.3 1234.2 1116.7 1242.2 1117.4 1248.7C1118.1 1255.2 1120.3 1260.4 1120.6 1266.0C1121.0 1271.6 1119.7 1279.6 1119.5 1282.3 M1100.0 1204.6L1116.3 1205.3 M1089.2 1224.8C1092.0 1225.5 1101.6 1229.0 1106.5 1229.1C1111.4 1229.3 1116.5 1226.4 1118.5 1225.9 M949.8 1408.2L952.8 1385.4 M1070.3 1407.1L1059.9 1377.8 M1141.3 1265.0L1120.6 1278.0 M943.6 1080.9C944.7 1080.2 946.3 1078.9 949.9 1076.7C953.5 1074.6 959.7 1070.2 965.1 1068.1C970.5 1065.9 977.8 1065.5 982.5 1063.7C987.2 1061.9 989.0 1059.4 993.3 1057.2C997.7 1055.0 1003.1 1053.1 1008.5 1050.7C1014.0 1048.3 1021.6 1046.7 1025.9 1043.1C1030.2 1039.5 1031.0 1034.6 1034.6 1029.0C1038.2 1023.4 1043.3 1015.8 1047.6 1009.5C1051.9 1003.1 1056.6 995.2 1060.6 991.0C1064.6 986.8 1067.5 985.9 1071.5 984.5C1075.5 983.1 1079.8 982.0 1084.5 982.3C1089.2 982.7 1095.7 984.3 1099.7 986.7C1103.7 989.0 1105.5 993.0 1108.4 996.4C1111.3 999.9 1113.8 1003.7 1117.1 1007.3C1120.3 1010.9 1123.2 1014.9 1127.9 1018.1C1132.6 1021.4 1139.1 1023.6 1145.3 1026.8C1151.4 1030.1 1158.7 1034.6 1164.8 1037.7C1171.0 1040.8 1176.4 1043.1 1182.2 1045.3C1188.0 1047.4 1194.5 1049.3 1199.5 1050.7C1204.6 1052.1 1210.4 1053.4 1212.6 1054.0 M1125.7 1020.3C1123.9 1023.2 1117.8 1031.5 1114.9 1037.7C1112.0 1043.8 1110.0 1050.5 1108.4 1057.2C1106.8 1063.9 1105.7 1074.4 1105.1 1077.8 M1091.0 1132.1C1091.2 1129.7 1091.6 1121.1 1092.1 1118.0C1092.6 1114.9 1093.9 1114.4 1094.3 1113.6 M1091.0 1148.4C1092.5 1150.2 1096.4 1156.3 1099.7 1159.2C1103.0 1162.1 1107.3 1164.5 1110.5 1165.7C1113.8 1167.0 1116.0 1167.6 1119.2 1166.8C1122.5 1166.1 1126.1 1162.7 1130.1 1161.4C1134.1 1160.1 1138.8 1159.6 1143.1 1159.2C1147.4 1158.9 1152.2 1160.0 1156.1 1159.2C1160.1 1158.5 1163.4 1155.8 1167.0 1154.9C1170.6 1154.0 1174.2 1153.3 1177.8 1153.8C1181.5 1154.3 1184.3 1157.1 1188.7 1158.1C1193.0 1159.2 1198.5 1159.4 1203.9 1160.3C1209.3 1161.2 1215.5 1162.3 1221.3 1163.6C1227.0 1164.8 1232.8 1166.1 1238.6 1167.9C1244.4 1169.7 1250.9 1172.4 1256.0 1174.4C1261.0 1176.4 1266.8 1178.9 1269.0 1179.9 M1177.8 1153.8C1178.6 1150.7 1180.4 1142.0 1182.2 1135.4C1184.0 1128.7 1186.9 1119.1 1188.7 1113.6C1190.5 1108.2 1190.5 1106.4 1193.0 1102.8C1195.6 1099.2 1201.7 1095.9 1203.9 1091.9C1206.1 1088.0 1205.3 1082.5 1206.1 1078.9C1206.8 1075.3 1207.1 1074.4 1208.2 1070.2C1209.3 1066.1 1210.8 1057.9 1212.6 1054.0C1214.4 1050.0 1215.8 1048.7 1219.1 1046.4C1222.3 1044.0 1226.7 1041.7 1232.1 1039.8C1237.5 1038.0 1244.8 1036.8 1251.6 1035.5C1258.5 1034.2 1265.7 1034.1 1273.3 1032.3C1280.9 1030.4 1289.4 1026.6 1297.2 1024.7C1305.0 1022.7 1316.2 1021.0 1320.0 1020.3 M1208.2 1081.1C1211.1 1081.6 1219.1 1082.9 1225.6 1084.3C1232.1 1085.8 1240.1 1088.1 1247.3 1089.8C1254.5 1091.4 1261.8 1093.2 1269.0 1094.1C1276.2 1095.0 1287.1 1095.0 1290.7 1095.2 M1269.0 1179.9C1270.5 1176.8 1275.5 1167.4 1277.7 1161.4C1279.9 1155.4 1279.1 1149.8 1282.0 1144.0C1284.9 1138.2 1291.4 1131.7 1295.1 1126.7C1298.7 1121.6 1301.9 1117.6 1303.7 1113.6C1305.5 1109.7 1305.5 1104.6 1305.9 1102.8 M1269.0 1179.9C1270.5 1182.2 1274.1 1190.0 1277.7 1194.0C1281.3 1197.9 1286.4 1201.4 1290.7 1203.7C1295.1 1206.1 1298.8 1207.7 1303.7 1208.1C1308.6 1208.4 1317.3 1206.3 1320.0 1205.9 M1081.2 1018.6L1060.6 992.1 M1051.5 1071.3L1025.9 1044.2 M1142.7 993.8L1145.3 1025.7 M1191.5 1003.6L1165.9 1036.6 M1155.7 1073.5L1193.0 1103.9 M1139.4 1114.1C1139.1 1116.5 1130.9 1125.3 1137.7 1128.8C1144.4 1132.4 1173.0 1134.3 1180.0 1135.4 M1150.3 1188.1L1138.8 1163.6 M1086.2 1205.2L1118.1 1205.2 M1257.1 1062.0L1252.7 1037.7 M1281.4 974.7C1281.1 979.4 1277.2 994.8 1279.9 1002.9C1282.5 1011.1 1294.3 1020.1 1297.2 1023.6 M1304.8 1173.3L1300.5 1207.0 M1251.6 1214.6C1249.8 1210.4 1243.5 1197.0 1240.8 1189.6C1238.1 1182.2 1236.3 1173.3 1235.4 1170.1 M1320.0 1020.3C1320.8 1020.3 1322.0 1019.6 1325.0 1020.1C1328.0 1020.6 1334.4 1021.7 1338.0 1023.3C1341.6 1025.0 1344.3 1027.0 1346.7 1029.8C1349.0 1032.7 1350.8 1036.7 1352.1 1040.7C1353.4 1044.7 1354.1 1050.1 1354.3 1053.7C1354.5 1057.3 1354.5 1060.2 1353.2 1062.4C1351.9 1064.6 1349.9 1065.3 1346.7 1066.7C1343.4 1068.2 1338.0 1069.6 1333.6 1071.1C1329.3 1072.5 1324.1 1073.6 1320.6 1075.4C1317.2 1077.2 1314.7 1079.6 1313.0 1081.9C1311.4 1084.3 1311.2 1088.3 1310.9 1089.5 M1354.3 1060.2C1354.5 1063.9 1354.1 1075.8 1355.4 1081.9C1356.6 1088.1 1359.0 1092.8 1361.9 1097.1C1364.8 1101.5 1368.7 1104.7 1372.7 1108.0C1376.7 1111.2 1381.9 1113.8 1385.7 1116.7C1389.5 1119.6 1393.0 1122.1 1395.5 1125.4C1398.0 1128.6 1399.5 1132.2 1400.9 1136.2C1402.4 1140.2 1404.2 1144.9 1404.2 1149.2C1404.2 1153.6 1402.9 1159.0 1400.9 1162.3C1398.9 1165.5 1396.2 1167.0 1392.3 1168.8C1388.3 1170.6 1381.9 1171.8 1377.1 1173.1C1372.2 1174.4 1365.8 1174.6 1363.0 1176.4C1360.1 1178.2 1360.2 1180.9 1359.7 1184.0C1359.2 1187.0 1359.7 1193.0 1359.7 1194.8 M1316.3 1103.6C1317.0 1105.8 1318.5 1112.0 1320.6 1116.7C1322.8 1121.4 1326.1 1126.8 1329.3 1131.9C1332.6 1136.9 1336.5 1142.0 1340.2 1147.1C1343.8 1152.1 1347.2 1157.4 1351.0 1162.3C1354.8 1167.1 1361.0 1174.0 1363.0 1176.4 M1320.0 1205.9C1321.5 1204.8 1325.2 1201.0 1329.3 1199.2C1333.4 1197.3 1339.4 1195.5 1344.5 1194.8C1349.6 1194.1 1354.3 1195.0 1359.7 1194.8C1365.1 1194.6 1372.0 1194.3 1377.1 1193.7C1382.1 1193.2 1386.5 1192.3 1390.1 1191.6C1393.7 1190.8 1397.3 1189.7 1398.8 1189.4 M1319.5 1055.9L1336.9 1026.6 M1404.2 1097.1L1373.8 1108.0 M1370.1 1148.1C1372.7 1146.5 1381.7 1142.0 1385.7 1138.4C1389.8 1134.8 1393.0 1128.4 1394.4 1126.4 M1441.1 1141.6L1404.2 1142.7 M1352.1 1223.0C1349.7 1220.9 1342.5 1213.8 1338.0 1210.0C1333.5 1206.2 1327.1 1201.9 1325.0 1200.2" fill="none" stroke="#000" stroke-width="2.8" stroke-linecap="round" stroke-linejoin="round"/>
<path d="" fill="none" stroke="#000" stroke-width="2.9" stroke-dasharray="36 13" stroke-linecap="butt"/>
<path d="M180.8 146.6L180.8 106.5L226.1 101.4 M240.3 98.8L276.5 94.9 M286.8 93.1L324.3 88.4 M337.2 87.1L368.3 84.6L386.4 101.4 M391.5 107.8L421.3 137.6 M427.7 145.3L456.2 175.0 M466.5 186.7L496.2 216.4L496.2 252.6L460.0 277.2 M447.1 284.9L405.7 308.2 M392.8 318.5L367.0 334.0L328.2 323.7 M312.7 318.5L268.7 308.2 M250.6 303.0L217.0 295.3 M201.5 291.4L180.8 287.5L180.8 251.3 M180.8 241.0L180.8 204.8 M180.8 195.7L180.8 188.0 M270.5 372.4L286.5 355.6 M287.3 355.6L361.0 349.1L392.0 333.1 M416.0 318.6L449.6 297.9L464.4 333.6 M474.7 354.3L488.9 396.9 M203.3 443.5L227.8 418.9 M202.8 444.8L218.8 461.6 M234.3 470.6L260.1 490.0 M271.8 499.1L301.5 522.3 M317.0 532.7L348.0 555.9 M358.4 563.7L386.8 584.4 M266.6 539.1L293.8 568.9 M302.8 580.5L329.9 610.2 M340.3 623.2L364.9 649.0L353.2 672.3 M495.6 412.4L513.8 451.3L497.3 486.0 M488.2 507.5L472.5 542.2 M551.8 492.6L513.8 491.8L474.1 545.5 M475.8 543.9L441.0 559.6 M429.5 565.4L390.6 585.2 M384.8 584.4L360.0 565.4 M451.0 585.2L423.7 622.4 M472.5 545.5L460.9 572.0 M546.9 448.0L563.4 473.6 M551.8 495.9L578.3 526.5 M571.7 486.0L597.3 524.0 M603.1 534.0L624.6 563.7L646.9 530.6 M651.9 521.5L675.0 487.6 M589.0 540.6L618.0 575.3 M629.6 586.9L653.5 619.1L637.8 642.9 M509.7 400.0L524.5 419.8 M531.0 209.6L515.5 246.9 M508.3 264.4L490.7 305.8 M486.5 315.1L475.2 343.0L493.8 373.0 M534.1 208.0L560.0 209.0 M571.3 209.6L601.3 210.7 M611.7 211.3L632.3 212.7L648.9 241.7 M653.0 253.1L667.5 275.8 M669.6 288.2L691.3 319.3 M642.7 185.9L633.4 187.9L649.9 222.0 M655.1 232.4L668.5 257.2 M672.7 267.5L691.3 300.6L698.5 313.1 M691.3 325.5L692.3 344.1 M691.3 358.6L696.5 404.1 M695.4 411.3L697.5 449.6L688.2 463.8 M698.5 313.1L701.6 358.6 M703.7 372.0L707.8 408.2 M708.9 422.7L715.1 463.8 M840.0 414.4L810.2 426.8 M797.8 434.0L750.2 454.7 M731.7 162.0L754.4 155.8 M764.8 154.8L797.9 145.5 M810.3 142.4L842.3 134.1L844.4 162.0 M844.4 176.5L846.5 215.8 M846.5 224.1L847.5 254.1L874.4 271.7 M878.5 279.9L884.7 306.8 M886.8 313.0L895.1 335.8 M896.1 346.1L903.4 379.2L893.0 387.5 M884.7 391.6L857.8 403.8 M899.2 119.6L868.2 126.9L868.2 160.0 M913.7 115.5L942.6 108.3 M955.1 105.2L984.0 100.0 M868.2 174.5L870.3 212.7 M870.3 224.1L871.3 253.1 M904.4 294.4L909.6 325.4 M911.6 335.8L915.8 366.8 M916.8 377.1L922.0 403.8 M1020.0 346.1L1006.8 353.4 M992.3 363.7L963.3 381.3 M950.9 388.5L926.1 403.8 M997.2 92.8L1028.2 86.1L1035.4 111.4 M1037.5 119.6L1041.7 130.0 M1051.0 164.1L1059.2 194.1 M1062.3 206.5L1071.6 233.4 M1073.7 245.8L1082.0 268.6 M1083.0 274.8L1090.3 298.5L1051.0 325.4 M1038.6 333.7L1019.9 346.1 M993.1 363.7L974.4 373.8 M715.0 463.1L715.6 470.8L739.6 460.5 M921.9 403.9L923.2 408.8L929.6 404.9 M605.2 693.2L615.5 680.2 M193.2 504.7L229.0 498.2L259.4 528.6 M173.6 509.5L137.8 515.6L104.2 554.7 M93.3 568.8L71.6 593.7 M46.7 624.1L19.5 651.2L42.3 673.0 M48.8 679.5L87.9 709.9 M96.6 716.4L134.6 747.8 M143.3 755.4L183.4 786.9L219.2 771.7 M232.3 766.3L267.0 751.1 M281.1 744.6L312.6 730.5L337.5 695.7 M345.1 681.6L356.0 665.4 M363.1 713.4L349.6 737.6L388.9 738.2 M405.5 739.3L451.0 739.3 M470.6 739.7L522.3 739.7 M534.8 740.3L574.1 739.7L596.8 707.2 M412.3 637.1L378.6 687.5 M374.5 692.7L368.3 702.0 M330.0 767.2L355.9 767.2 M376.5 766.1L430.3 766.1 M452.0 764.1L503.7 764.1L519.2 800.3 M524.4 811.6L538.9 840.6 M551.3 870.6L557.5 883.8 M530.6 871.6L531.7 883.8 M286.8 767.1L247.8 768.2L264.0 801.9 M307.4 767.1L330.0 767.1 M269.5 813.8L282.5 839.8 M287.9 851.8L297.7 872.4L305.3 898.5 M557.5 883.9L566.8 901.7 M571.2 913.6L590.7 957.1 M298.8 926.7L309.6 966.8 M308.5 914.7L317.2 945.1L359.5 965.7 M312.9 970.1L351.9 983.1 M373.6 973.3L421.4 994.0 M365.0 986.4L410.5 1000.5 M200.0 895.2L204.3 889.8 M213.0 881.1L223.9 872.4L284.7 881.1L293.3 913.6 M588.5 959.2L549.5 967.9 M532.1 970.1L490.9 978.8 M620.0 969.0L603.7 972.3 M586.4 973.3L532.1 980.9 M190.9 902.1L200.0 895.1 M158.3 930.3L126.8 955.3 M114.9 968.3L78.0 998.7L121.4 1024.7 M134.4 1034.5L181.1 1061.6 M199.5 1073.6L252.7 1105.0 M271.2 1115.9L322.2 1147.4L359.1 1119.2 M371.0 1108.3L402.5 1083.3 M413.3 1072.5L441.6 1049.7 M418.8 1135.4L400.3 1099.6L409.0 1090.9 M424.2 1148.5L435.1 1168.9 M430.7 1069.2L451.3 1055.1 M620.1 969.1L641.6 966.3L653.5 986.9 M670.9 1021.6L695.8 1072.6 M703.4 1084.6L717.5 1117.1L696.9 1138.8 M434.9 1168.8L437.5 1172.5L482.0 1174.7 M499.4 1173.6L549.3 1173.6 M571.0 1175.7L614.4 1176.8 M518.9 1192.0L475.5 1193.1L436.4 1226.8 M541.7 1190.9L553.6 1190.9 M611.2 1189.9L662.2 1189.9 M676.3 1189.4L706.7 1188.8L695.8 1224.6 M715.4 1185.5L705.6 1226.8 M725.1 1192.0L717.5 1223.5L712.1 1238.7 M688.2 1244.1L682.8 1268.9 M704.5 1241.9L699.1 1268.9 M711.0 1240.9L711.0 1268.9 M662.2 1175.7L680.6 1158.4 M721.9 1167.1L723.0 1148.6L766.4 1124.7 M785.9 1112.8L800.0 1104.1 M421.4 1241.1L374.7 1283.4L409.5 1308.4 M416.0 1313.8L433.3 1324.6 M472.4 1355.0L489.8 1368.1L560.3 1369.1 M575.5 1369.1L629.8 1370.2 M645.0 1370.7L690.6 1370.2L685.1 1326.8 M682.7 1268.9L680.8 1279.1L683.0 1311.6 M699.0 1268.9L696.0 1287.7L709.0 1349.6L730.7 1350.3 M750.2 1351.8L760.0 1351.8 M800.0 1104.1L833.0 1085.2L872.1 1093.9 M888.4 1097.1L918.8 1104.7L931.8 1139.5 M959.6 1060.4L926.4 1086.3L940.5 1126.4 M936.1 1156.8L944.8 1182.9L937.2 1200.2 M931.8 1213.3L916.6 1252.3 M910.1 1267.5L897.1 1302.3L860.2 1320.7 M954.6 1248.0L922.0 1269.7L907.9 1310.9L884.0 1324.0 M949.2 1144.9L969.8 1198.1 M975.2 1200.2L1017.5 1208.9 M1033.8 1213.3L1075.1 1221.9 M1066.4 1231.7L1100.0 1241.5 M1090.2 1225.2L1100.0 1226.3 M967.6 1239.3L1003.4 1215.4L1049.0 1227.4 M751.6 1352.2L799.4 1353.3L839.5 1331.6 M868.8 1329.4L836.3 1346.8L872.1 1371.7 M881.9 1379.3L897.1 1388.9 M1118.5 1225.9L1152.1 1218.3 M1163.0 1216.1L1199.9 1207.4L1199.9 1162.9 M1123.9 1246.5L1160.8 1257.4L1154.3 1272.6 M1126.1 1329.0L1106.5 1370.2 M1098.9 1385.4L1079.4 1426.7L1024.0 1423.4 M1000.2 1423.4L944.8 1419.1L924.2 1407.1 M897.1 1388.9L914.4 1399.5 M1100.0 1241.5L1108.7 1243.3 M1206.4 1151.0L1206.4 1172.7 M1207.5 1185.7L1208.5 1231.3L1240.0 1232.4 M1027.0 1002.9L1058.5 976.9L1104.0 977.3 M1119.2 978.0L1171.3 979.1 M1182.2 979.1L1224.5 979.5L1193.0 1046.4 M972.7 1048.5L1015.0 1013.8 M1239.7 1000.8L1203.9 1044.2L1205.0 1100.6 M1191.9 1052.9L1194.1 1083.3 M1194.1 1096.3L1196.3 1146.2 M1203.9 1124.5L1206.1 1151.0 M1239.9 1232.4L1251.6 1231.9 M1269.0 1233.0L1320.0 1233.0 M1252.7 985.6L1285.3 949.8L1316.8 981.2 M1348.8 1012.5L1369.5 1034.2 M1377.1 1041.8L1419.4 1084.1 M1432.4 1097.1L1465.0 1131.9L1435.7 1172.0 M1430.2 1182.9L1397.7 1228.5L1341.2 1232.8" fill="none" stroke="#000" stroke-width="2.9" stroke-linecap="round" stroke-linejoin="round"/>
<path d="M186.5 457.7L211.0 468.0 M222.7 478.4L265.3 509.4 M278.2 524.9L296.3 537.8 M301.5 543.0L324.8 561.1 M332.5 568.9L386.8 610.2 M546.0 465.8L514.6 465.3L492.3 522.4 M465.8 552.1L436.1 576.1 M422.8 585.2L396.4 608.4 M360.0 588.5L385.6 612.5 M550.2 474.4L570.0 500.0 M576.6 510.0L618.8 572.8L634.5 572.0 M651.1 572.0L680.0 572.0 M696.9 574.2L713.8 574.2L781.0 587.2 M797.8 591.0L821.0 594.9 M386.5 1184.4L420.2 1184.0 M439.7 1183.3L473.3 1184.0 M492.9 1182.3L609.0 1181.8 M673.0 1180.1L687.1 1179.0L705.6 1138.8L741.4 1109.5 M749.0 1093.3L767.5 1069.4 M775.1 1055.3L800.0 1015.1 M34.7 396.9L71.6 412.7 M86.8 418.1L173.6 454.0 M420.1 1184.0L386.5 1184.5L324.8 1234.0 M308.5 1247.0L274.9 1257.2 M259.7 1262.2L149.0 1293.6 M133.8 1298.4L100.2 1307.8 M841.0 952.0L826.0 976.0 M819.0 987.0L800.0 1015.0" fill="none" stroke="#000" stroke-width="4.2" stroke-linecap="round" stroke-linejoin="round"/>
<path d="M629.6 1179.0L662.2 1179.0" fill="none" stroke="#000" stroke-width="5.5"/>
<rect x="320.4" y="222.0" width="28.5" height="9.5" fill="#fff" stroke="#000" stroke-width="2.8"/>
<rect x="386.0" y="442.1" width="28.5" height="9.5" fill="#fff" stroke="#000" stroke-width="2.8"/>
<rect x="512.8" y="607.3" width="28.5" height="9.5" fill="#fff" stroke="#000" stroke-width="2.8"/>
<rect x="770.2" y="288.6" width="28.5" height="9.5" fill="#fff" stroke="#000" stroke-width="2.8"/>
<rect x="977.0" y="247.3" width="28.5" height="9.5" fill="#fff" stroke="#000" stroke-width="2.8"/>
<rect x="248.7" y="1010.5" width="28.5" height="9.5" fill="#fff" stroke="#000" stroke-width="2.8"/>
<rect x="562.2" y="1087.4" width="28.5" height="9.5" fill="#fff" stroke="#000" stroke-width="2.8"/>
<rect x="800.3" y="1210.2" width="28.5" height="9.5" fill="#fff" stroke="#000" stroke-width="2.8"/>
<rect x="1074.2" y="1133.2" width="28.5" height="9.5" fill="#fff" stroke="#000" stroke-width="2.8"/>
<rect x="1291.6" y="1091.3" width="28.5" height="9.5" fill="#fff" stroke="#000" stroke-width="2.8"/>
<g fill="#000"><circle cx="206.7" cy="129.3" r="7.1"/><circle cx="280.4" cy="125.9" r="7.1"/><circle cx="362.3" cy="98.3" r="7.1"/><circle cx="351.5" cy="176.3" r="7.1"/><circle cx="267.4" cy="209.4" r="7.1"/><circle cx="405.2" cy="213.8" r="7.1"/><circle cx="223.5" cy="269.9" r="7.1"/><circle cx="303.6" cy="271.5" r="7.1"/><circle cx="392.0" cy="264.2" r="7.1"/><circle cx="462.1" cy="258.6" r="7.1"/><circle cx="290.7" cy="377.0" r="7.1"/><circle cx="353.2" cy="380.7" r="7.1"/><circle cx="423.0" cy="384.0" r="7.1"/><circle cx="227.8" cy="446.8" r="7.1"/><circle cx="319.6" cy="450.5" r="7.1"/><circle cx="464.9" cy="450.5" r="7.1"/><circle cx="334.3" cy="526.2" r="7.1"/><circle cx="459.2" cy="529.6" r="7.1"/><circle cx="392.0" cy="563.2" r="7.1"/><circle cx="443.7" cy="317.6" r="7.1"/><circle cx="541.9" cy="545.2" r="7.1"/><circle cx="564.2" cy="573.6" r="7.1"/><circle cx="455.1" cy="605.9" r="7.1"/><circle cx="619.6" cy="632.3" r="7.1"/><circle cx="618.0" cy="403.3" r="7.1"/><circle cx="632.9" cy="516.6" r="7.1"/><circle cx="587.4" cy="483.5" r="7.1"/><circle cx="677.8" cy="450.6" r="7.1"/><circle cx="682.0" cy="395.8" r="7.1"/><circle cx="543.4" cy="402.0" r="7.1"/><circle cx="494.8" cy="341.0" r="7.1"/><circle cx="524.8" cy="278.9" r="7.1"/><circle cx="581.7" cy="234.5" r="7.1"/><circle cx="627.2" cy="299.6" r="7.1"/><circle cx="669.2" cy="214.2" r="7.1"/><circle cx="739.3" cy="238.2" r="7.1"/><circle cx="794.8" cy="170.7" r="7.1"/><circle cx="813.4" cy="239.6" r="7.1"/><circle cx="712.7" cy="278.3" r="7.1"/><circle cx="846.9" cy="305.8" r="7.1"/><circle cx="808.2" cy="341.0" r="7.1"/><circle cx="867.2" cy="377.1" r="7.1"/><circle cx="743.1" cy="357.5" r="7.1"/><circle cx="915.8" cy="133.5" r="7.1"/><circle cx="1001.6" cy="115.5" r="7.1"/><circle cx="961.3" cy="178.6" r="7.1"/><circle cx="888.9" cy="191.0" r="7.1"/><circle cx="923.4" cy="253.1" r="7.1"/><circle cx="933.3" cy="311.0" r="7.1"/><circle cx="942.6" cy="366.8" r="7.1"/><circle cx="1022.0" cy="208.6" r="7.1"/><circle cx="1063.0" cy="276.4" r="7.1"/><circle cx="1007.5" cy="312.4" r="7.1"/><circle cx="756.9" cy="433.3" r="7.1"/><circle cx="196.4" cy="554.7" r="7.1"/><circle cx="159.5" cy="582.9" r="7.1"/><circle cx="201.9" cy="607.8" r="7.1"/><circle cx="53.2" cy="649.7" r="7.1"/><circle cx="137.2" cy="658.8" r="7.1"/><circle cx="348.4" cy="646.9" r="7.1"/><circle cx="218.1" cy="691.0" r="7.1"/><circle cx="302.4" cy="718.1" r="7.1"/><circle cx="151.9" cy="741.8" r="7.1"/><circle cx="199.7" cy="761.9" r="7.1"/><circle cx="415.8" cy="651.4" r="7.1"/><circle cx="458.2" cy="670.4" r="7.1"/><circle cx="523.4" cy="675.6" r="7.1"/><circle cx="580.9" cy="695.4" r="7.1"/><circle cx="409.6" cy="722.7" r="7.1"/><circle cx="468.6" cy="725.2" r="7.1"/><circle cx="451.0" cy="815.2" r="7.1"/><circle cx="368.3" cy="783.7" r="7.1"/><circle cx="382.7" cy="873.7" r="7.1"/><circle cx="373.6" cy="937.5" r="7.1"/><circle cx="383.0" cy="874.6" r="7.1"/><circle cx="430.5" cy="949.5" r="7.1"/><circle cx="487.6" cy="953.2" r="7.1"/><circle cx="500.6" cy="886.5" r="7.1"/><circle cx="562.9" cy="952.3" r="7.1"/><circle cx="277.5" cy="792.1" r="7.1"/><circle cx="311.1" cy="843.8" r="7.1"/><circle cx="532.5" cy="1048.2" r="7.1"/><circle cx="604.8" cy="1049.3" r="7.1"/><circle cx="468.7" cy="1023.3" r="7.1"/><circle cx="223.4" cy="891.9" r="7.1"/><circle cx="278.1" cy="938.6" r="7.1"/><circle cx="327.0" cy="1015.2" r="7.1"/><circle cx="396.4" cy="1018.9" r="7.1"/><circle cx="102.9" cy="997.6" r="7.1"/><circle cx="178.9" cy="990.0" r="7.1"/><circle cx="267.9" cy="1097.4" r="7.1"/><circle cx="318.3" cy="1123.9" r="7.1"/><circle cx="371.0" cy="1090.5" r="7.1"/><circle cx="322.8" cy="1055.8" r="7.1"/><circle cx="661.1" cy="1036.8" r="7.1"/><circle cx="684.5" cy="1084.6" r="7.1"/><circle cx="490.7" cy="1068.3" r="7.1"/><circle cx="429.5" cy="1095.0" r="7.1"/><circle cx="464.2" cy="1147.5" r="7.1"/><circle cx="538.0" cy="1130.2" r="7.1"/><circle cx="627.4" cy="1134.1" r="7.1"/><circle cx="489.6" cy="1212.6" r="7.1"/><circle cx="674.1" cy="1210.5" r="7.1"/><circle cx="432.1" cy="1252.8" r="7.1"/><circle cx="755.1" cy="1212.6" r="7.1"/><circle cx="742.5" cy="1150.8" r="7.1"/><circle cx="400.8" cy="1285.6" r="7.1"/><circle cx="456.1" cy="1316.6" r="7.1"/><circle cx="560.3" cy="1314.9" r="7.1"/><circle cx="508.9" cy="1352.9" r="7.1"/><circle cx="629.1" cy="1350.3" r="7.1"/><circle cx="656.5" cy="1281.2" r="7.1"/><circle cx="667.3" cy="1356.1" r="7.1"/><circle cx="742.6" cy="1273.6" r="7.1"/><circle cx="736.8" cy="1333.8" r="7.1"/><circle cx="834.1" cy="1129.0" r="7.1"/><circle cx="805.5" cy="1163.3" r="7.1"/><circle cx="884.0" cy="1170.3" r="7.1"/><circle cx="742.9" cy="1152.5" r="7.1"/><circle cx="754.9" cy="1213.7" r="7.1"/><circle cx="742.9" cy="1273.6" r="7.1"/><circle cx="823.9" cy="1271.9" r="7.1"/><circle cx="882.3" cy="1254.5" r="7.1"/><circle cx="736.9" cy="1333.7" r="7.1"/><circle cx="799.8" cy="1337.4" r="7.1"/><circle cx="983.9" cy="1097.8" r="7.1"/><circle cx="979.1" cy="1152.0" r="7.1"/><circle cx="968.3" cy="1275.8" r="7.1"/><circle cx="913.3" cy="1321.8" r="7.1"/><circle cx="949.2" cy="1347.8" r="7.1"/><circle cx="1008.8" cy="1236.1" r="7.1"/><circle cx="1065.3" cy="1274.0" r="7.1"/><circle cx="1085.9" cy="1204.6" r="7.1"/><circle cx="1069.6" cy="1334.8" r="7.1"/><circle cx="1015.4" cy="1367.4" r="7.1"/><circle cx="949.8" cy="1408.2" r="7.1"/><circle cx="1070.3" cy="1407.1" r="7.1"/><circle cx="1141.3" cy="1265.0" r="7.1"/><circle cx="1081.2" cy="1018.6" r="7.1"/><circle cx="1051.5" cy="1071.3" r="7.1"/><circle cx="1142.7" cy="993.8" r="7.1"/><circle cx="1191.5" cy="1003.6" r="7.1"/><circle cx="1155.7" cy="1073.5" r="7.1"/><circle cx="1139.4" cy="1114.1" r="7.1"/><circle cx="1150.3" cy="1188.1" r="7.1"/><circle cx="1086.2" cy="1205.2" r="7.1"/><circle cx="1257.1" cy="1062.0" r="7.1"/><circle cx="1281.4" cy="974.7" r="7.1"/><circle cx="1304.8" cy="1173.3" r="7.1"/><circle cx="1251.6" cy="1214.6" r="7.1"/><circle cx="1401.4" cy="1191.6" r="7.1"/><circle cx="1319.5" cy="1055.9" r="7.1"/><circle cx="1404.2" cy="1097.1" r="7.1"/><circle cx="1370.1" cy="1148.1" r="7.1"/><circle cx="1441.1" cy="1141.6" r="7.1"/><circle cx="1352.1" cy="1223.0" r="7.1"/></g>
<line x1="300.2" y1="484.9" x2="248.5" y2="539.9" stroke="#000" stroke-width="9"/>
<circle cx="300.2" cy="484.9" r="5.2" fill="#fff" stroke="#000" stroke-width="2.6"/>
<circle cx="248.5" cy="539.9" r="5.2" fill="#fff" stroke="#000" stroke-width="2.6"/>
<line x1="528.7" y1="447.1" x2="536.6" y2="515.8" stroke="#000" stroke-width="9"/>
<circle cx="528.7" cy="447.1" r="5.2" fill="#fff" stroke="#000" stroke-width="2.6"/>
<circle cx="536.6" cy="515.8" r="5.2" fill="#fff" stroke="#000" stroke-width="2.6"/>
<line x1="560.2" y1="1160.5" x2="570.6" y2="1202.9" stroke="#000" stroke-width="9"/>
<circle cx="560.2" cy="1160.5" r="5.2" fill="#fff" stroke="#000" stroke-width="2.6"/>
<circle cx="570.6" cy="1202.9" r="5.2" fill="#fff" stroke="#000" stroke-width="2.6"/>
<line x1="669.8" y1="1138.8" x2="734.9" y2="1179.0" stroke="#000" stroke-width="9"/>
<circle cx="669.8" cy="1138.8" r="5.2" fill="#fff" stroke="#000" stroke-width="2.6"/>
<circle cx="734.9" cy="1179.0" r="5.2" fill="#fff" stroke="#000" stroke-width="2.6"/>
<path d="M567.2 353.6h10.5v-10.5h12v10.5h10.5v12h-10.5v10.5h-12v-10.5h-10.5z" fill="#000"/>
<path d="M981.5 1299.5h10.5v-10.5h12v10.5h10.5v12h-10.5v10.5h-12v-10.5h-10.5z" fill="#000"/>
<circle cx="428.9" cy="859.2" r="8.3" fill="#fff" stroke="#000" stroke-width="2.8"/>
<circle cx="571.0" cy="1252.8" r="8.3" fill="#fff" stroke="#000" stroke-width="2.8"/>
<path d="M233.3 633.5L236.5 642.0L245.5 642.3L238.4 647.9L240.9 656.6L233.3 651.6L225.8 656.6L228.3 647.9L221.2 642.3L230.2 642.0Z" fill="#000"/>
<g class="fl" stroke="#000" stroke-width="0.5">
<text x="109.7" y="177.6" textLength="99.6" lengthAdjust="spacingAndGlyphs">FLIGHT L</text>
<text x="168.2" y="406.2" textLength="103.1" lengthAdjust="spacingAndGlyphs">FLIGHT K</text>
<text x="614.8" y="177.6" textLength="104.4" lengthAdjust="spacingAndGlyphs">FLIGHT N</text>
<text x="563.0" y="336.8" textLength="110.7" lengthAdjust="spacingAndGlyphs">FLIGHT M</text>
<text x="1027.0" y="151.7" textLength="107.7" lengthAdjust="spacingAndGlyphs">FLIGHT O</text>
<text x="83.6" y="616.5" textLength="95.4" lengthAdjust="spacingAndGlyphs">FLIGHT I</text>
<text x="600.0" y="672.0" textLength="102.3" lengthAdjust="spacingAndGlyphs">FLIGHT J</text>
<text x="494.4" y="863.4" textLength="106.6" lengthAdjust="spacingAndGlyphs">FLIGHT G</text>
<text x="80.0" y="922.7" textLength="104.3" lengthAdjust="spacingAndGlyphs">FLIGHT H</text>
<text x="617.7" y="1013.0" textLength="102.0" lengthAdjust="spacingAndGlyphs">FLIGHT F</text>
<text x="359.5" y="1351.8" textLength="104.2" lengthAdjust="spacingAndGlyphs">FLIGHT E</text>
<text x="760.3" y="1247.0" textLength="104.2" lengthAdjust="spacingAndGlyphs">FLIGHT D</text>
<text x="1125.0" y="1301.9" textLength="104.0" lengthAdjust="spacingAndGlyphs">FLIGHT C</text>
<text x="1009.6" y="1103.9" textLength="102.0" lengthAdjust="spacingAndGlyphs">FLIGHT B</text>
<text x="1319.5" y="1004.9" textLength="106.5" lengthAdjust="spacingAndGlyphs">FLIGHT A</text>
</g>
<path d="M108.2 181.6H210.8 M166.7 410.2H272.8 M613.3 181.6H720.7 M561.5 340.8H675.2 M1025.5 155.7H1136.2 M82.1 620.5H180.5 M598.5 676.0H703.8 M492.9 867.4H602.5 M78.5 926.7H185.8 M616.2 1017.0H721.2 M358.0 1355.8H465.2 M758.8 1251.0H866.0 M1123.5 1305.9H1230.5 M1008.1 1107.9H1113.1 M1318.0 1008.9H1427.5" stroke="#000" stroke-width="2" fill="none"/>
<g class="sq" stroke="#000" stroke-width="0.45">
<text x="907.7" y="461.8" textLength="159.0" lengthAdjust="spacingAndGlyphs">SQUADRON III</text>
<text x="584.4" y="783.7" textLength="153.6" lengthAdjust="spacingAndGlyphs">SQUADRON II</text>
<text x="1167.8" y="913.5" textLength="148.8" lengthAdjust="spacingAndGlyphs">SQUADRON I</text>
<text x="1096.3" y="681.2" textLength="277.7" lengthAdjust="spacingAndGlyphs">MISSILE SUPPORT BASE</text>
<text x="1096.3" y="707.7" textLength="284.7" lengthAdjust="spacingAndGlyphs">(WING COMMAND POST)</text>
</g>
<g class="lg" stroke="#000" stroke-width="0.5">
<text x="1308.8" y="73.6" textLength="591.0" lengthAdjust="spacingAndGlyphs">ALTERNATE COMMAND POST (1 PER WING)</text>
<text x="1308.8" y="132.1" textLength="591.0" lengthAdjust="spacingAndGlyphs">SQUADRON COMMAND POST (2 PER WING)</text>
<text x="1308.8" y="199.3" textLength="409.0" lengthAdjust="spacingAndGlyphs">PRIMARY RELAY (2 PER WING)</text>
<text x="1308.8" y="260.9" textLength="389.5" lengthAdjust="spacingAndGlyphs">PRIMARY LCC (10 PER WING)</text>
<text x="1308.8" y="323.3" textLength="245.0" lengthAdjust="spacingAndGlyphs">LAUNCH FACILITY</text>
<text x="1308.8" y="383.8" textLength="198.0" lengthAdjust="spacingAndGlyphs">CIRCUIT RUNS</text>
<text x="1308.8" y="442.3" textLength="440.0" lengthAdjust="spacingAndGlyphs">INTERSQUADRON CONNECTION</text>
</g>
<path d="M1234.7 42.0L1238.2 51.6L1248.5 52.0L1240.4 58.4L1243.2 68.2L1234.7 62.5L1226.2 68.2L1229.0 58.4L1220.9 52.0L1231.2 51.6Z" fill="#000"/>
<path d="M1221.3 105.5h9.5v-9.5h10v9.5h9.5v10h-9.5v9.5h-10v-9.5h-9.5z" fill="#000" stroke="#000" stroke-width="1" stroke-linejoin="round"/>
<circle cx="1239.3" cy="185.8" r="11.6" fill="#fff" stroke="#000" stroke-width="3.2"/>
<rect x="1224.4" y="240.8" width="30" height="11" fill="#fff" stroke="#000" stroke-width="3"/>
<circle cx="1238.6" cy="303.9" r="10.1" fill="#000"/>
<path d="M1218.2 365.3H1262.7" stroke="#000" stroke-width="3"/>
<path d="M1211.2 423.8L1270.5 427.7" stroke="#000" stroke-width="8.5"/>
<circle cx="1211.2" cy="423.8" r="7" fill="#fff" stroke="#000" stroke-width="3"/>
<circle cx="1270.5" cy="427.7" r="7" fill="#fff" stroke="#000" stroke-width="3"/>
<path d="M1546.6 589L1545 624M1543.8 653L1543.4 728" stroke="#000" stroke-width="3.4" fill="none"/>
<path d="M1545.4 570L1555.4 571L1562.4 587.7L1546.6 589.5Z" fill="#000"/>
<path d="M1536.2 650.5L1538 626.4L1550.6 650.3L1551.7 626.8" fill="none" stroke="#000" stroke-width="3.6" stroke-linejoin="miter" stroke-miterlimit="2"/><path d="M1538.6 628.5L1550 648.5" stroke="#000" stroke-width="5.5"/>
</svg>
</body></html>
